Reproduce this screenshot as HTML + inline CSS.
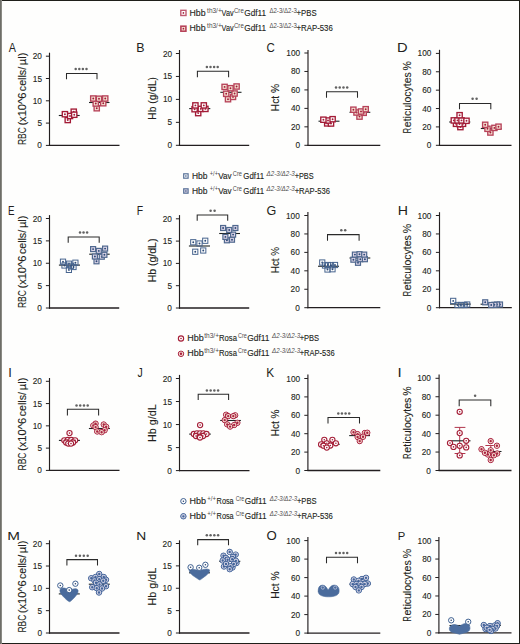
<!DOCTYPE html>
<html><head><meta charset="utf-8"><title>Figure</title>
<style>
html,body{margin:0;padding:0;background:#fff;}
body{width:520px;height:644px;overflow:hidden;position:relative;}
svg{position:absolute;left:0;top:0;display:block;}
text{font-family:"Liberation Sans", sans-serif;stroke-width:0.12px;paint-order:stroke;}
</style></head><body>
<svg width="520" height="644" viewBox="0 0 520 644">
<rect x="0" y="0" width="520" height="644" fill="#fefefd"/>
<line x1="49.50" y1="52.70" x2="49.50" y2="146.00" stroke="#231f20" stroke-width="1.15"/>
<line x1="48.95" y1="145.40" x2="119.50" y2="145.40" stroke="#231f20" stroke-width="1.3"/>
<line x1="45.90" y1="145.40" x2="49.50" y2="145.40" stroke="#231f20" stroke-width="1.0"/>
<text transform="translate(37.37,148.40) scale(0.9000,1)" font-size="9.20" fill="#231f20" stroke="#231f20">0</text>
<line x1="45.90" y1="123.10" x2="49.50" y2="123.10" stroke="#231f20" stroke-width="1.0"/>
<text transform="translate(37.39,126.10) scale(0.9000,1)" font-size="9.20" fill="#231f20" stroke="#231f20">5</text>
<line x1="45.90" y1="100.80" x2="49.50" y2="100.80" stroke="#231f20" stroke-width="1.0"/>
<text transform="translate(32.76,103.80) scale(0.9000,1)" font-size="9.20" fill="#231f20" stroke="#231f20">10</text>
<line x1="45.90" y1="78.50" x2="49.50" y2="78.50" stroke="#231f20" stroke-width="1.0"/>
<text transform="translate(32.79,81.50) scale(0.9000,1)" font-size="9.20" fill="#231f20" stroke="#231f20">15</text>
<line x1="45.90" y1="56.20" x2="49.50" y2="56.20" stroke="#231f20" stroke-width="1.0"/>
<text transform="translate(32.76,59.20) scale(0.9000,1)" font-size="9.20" fill="#231f20" stroke="#231f20">20</text>
<text transform="translate(8.78,51.80) scale(0.8587,1)" font-size="12.65" fill="#231f20" stroke="#231f20" style="stroke-width:0">A</text>
<text transform="translate(25.60,145.10) rotate(-90) scale(0.8083,1)" font-size="10.50" fill="#231f20" stroke="#231f20">RBC</text>
<text transform="translate(25.60,125.59) rotate(-90) scale(1.0572,1)" font-size="10.50" fill="#231f20" stroke="#231f20">(x10^6</text>
<text transform="translate(25.60,91.15) rotate(-90) scale(1.0139,1)" font-size="10.50" fill="#231f20" stroke="#231f20">cells/</text>
<text transform="translate(25.60,65.16) rotate(-90) scale(1.0656,1)" font-size="10.50" fill="#231f20" stroke="#231f20">µl)</text>
<path d="M66.50,79.20 V73.40 H97.00 V79.20" fill="none" stroke="#2a2a2a" stroke-width="1.05"/>
<circle cx="75.70" cy="69.00" r="1.25" fill="#626262"/>
<circle cx="79.30" cy="69.00" r="1.25" fill="#626262"/>
<circle cx="82.90" cy="69.00" r="1.25" fill="#626262"/>
<circle cx="86.50" cy="69.00" r="1.25" fill="#626262"/>
<line x1="179.50" y1="50.00" x2="179.50" y2="145.90" stroke="#231f20" stroke-width="1.15"/>
<line x1="178.95" y1="145.30" x2="249.20" y2="145.30" stroke="#231f20" stroke-width="1.3"/>
<line x1="175.90" y1="145.30" x2="179.50" y2="145.30" stroke="#231f20" stroke-width="1.0"/>
<text transform="translate(167.57,148.30) scale(0.9000,1)" font-size="9.20" fill="#231f20" stroke="#231f20">0</text>
<line x1="175.90" y1="122.35" x2="179.50" y2="122.35" stroke="#231f20" stroke-width="1.0"/>
<text transform="translate(167.59,125.35) scale(0.9000,1)" font-size="9.20" fill="#231f20" stroke="#231f20">5</text>
<line x1="175.90" y1="99.40" x2="179.50" y2="99.40" stroke="#231f20" stroke-width="1.0"/>
<text transform="translate(162.96,102.40) scale(0.9000,1)" font-size="9.20" fill="#231f20" stroke="#231f20">10</text>
<line x1="175.90" y1="76.45" x2="179.50" y2="76.45" stroke="#231f20" stroke-width="1.0"/>
<text transform="translate(162.99,79.45) scale(0.9000,1)" font-size="9.20" fill="#231f20" stroke="#231f20">15</text>
<line x1="175.90" y1="53.50" x2="179.50" y2="53.50" stroke="#231f20" stroke-width="1.0"/>
<text transform="translate(162.96,56.50) scale(0.9000,1)" font-size="9.20" fill="#231f20" stroke="#231f20">20</text>
<text transform="translate(136.28,52.30) scale(0.9807,1)" font-size="12.65" fill="#231f20" stroke="#231f20" style="stroke-width:0">B</text>
<text transform="translate(155.80,119.64) rotate(-90) scale(0.9750,1)" font-size="10.50" fill="#231f20" stroke="#231f20">Hb (g/dL)</text>
<path d="M197.40,77.20 V71.20 H228.60 V77.20" fill="none" stroke="#2a2a2a" stroke-width="1.05"/>
<circle cx="206.90" cy="66.90" r="1.25" fill="#626262"/>
<circle cx="210.50" cy="66.90" r="1.25" fill="#626262"/>
<circle cx="214.10" cy="66.90" r="1.25" fill="#626262"/>
<circle cx="217.70" cy="66.90" r="1.25" fill="#626262"/>
<line x1="308.00" y1="50.00" x2="308.00" y2="145.90" stroke="#231f20" stroke-width="1.15"/>
<line x1="307.45" y1="145.30" x2="380.30" y2="145.30" stroke="#231f20" stroke-width="1.3"/>
<line x1="304.40" y1="145.30" x2="308.00" y2="145.30" stroke="#231f20" stroke-width="1.0"/>
<text transform="translate(295.57,148.30) scale(0.9000,1)" font-size="9.20" fill="#231f20" stroke="#231f20">0</text>
<line x1="304.40" y1="126.84" x2="308.00" y2="126.84" stroke="#231f20" stroke-width="1.0"/>
<text transform="translate(290.96,129.84) scale(0.9000,1)" font-size="9.20" fill="#231f20" stroke="#231f20">20</text>
<line x1="304.40" y1="108.38" x2="308.00" y2="108.38" stroke="#231f20" stroke-width="1.0"/>
<text transform="translate(290.96,111.38) scale(0.9000,1)" font-size="9.20" fill="#231f20" stroke="#231f20">40</text>
<line x1="304.40" y1="89.92" x2="308.00" y2="89.92" stroke="#231f20" stroke-width="1.0"/>
<text transform="translate(290.96,92.92) scale(0.9000,1)" font-size="9.20" fill="#231f20" stroke="#231f20">60</text>
<line x1="304.40" y1="71.46" x2="308.00" y2="71.46" stroke="#231f20" stroke-width="1.0"/>
<text transform="translate(290.96,74.46) scale(0.9000,1)" font-size="9.20" fill="#231f20" stroke="#231f20">80</text>
<line x1="304.40" y1="53.00" x2="308.00" y2="53.00" stroke="#231f20" stroke-width="1.0"/>
<text transform="translate(286.36,56.00) scale(0.9000,1)" font-size="9.20" fill="#231f20" stroke="#231f20">100</text>
<text transform="translate(266.41,52.30) scale(0.8911,1)" font-size="12.94" fill="#231f20" stroke="#231f20" style="stroke-width:0">C</text>
<text transform="translate(279.30,111.14) rotate(-90) scale(0.9751,1)" font-size="10.50" fill="#231f20" stroke="#231f20">Hct %</text>
<path d="M326.50,97.70 V91.80 H357.50 V97.70" fill="none" stroke="#2a2a2a" stroke-width="1.05"/>
<circle cx="336.00" cy="87.40" r="1.25" fill="#626262"/>
<circle cx="339.73" cy="87.40" r="1.25" fill="#626262"/>
<circle cx="343.47" cy="87.40" r="1.25" fill="#626262"/>
<circle cx="347.20" cy="87.40" r="1.25" fill="#626262"/>
<line x1="439.50" y1="49.80" x2="439.50" y2="145.90" stroke="#231f20" stroke-width="1.15"/>
<line x1="438.95" y1="145.30" x2="511.50" y2="145.30" stroke="#231f20" stroke-width="1.3"/>
<line x1="435.90" y1="145.30" x2="439.50" y2="145.30" stroke="#231f20" stroke-width="1.0"/>
<text transform="translate(426.77,148.30) scale(0.9000,1)" font-size="9.20" fill="#231f20" stroke="#231f20">0</text>
<line x1="435.90" y1="126.92" x2="439.50" y2="126.92" stroke="#231f20" stroke-width="1.0"/>
<text transform="translate(422.16,129.92) scale(0.9000,1)" font-size="9.20" fill="#231f20" stroke="#231f20">20</text>
<line x1="435.90" y1="108.54" x2="439.50" y2="108.54" stroke="#231f20" stroke-width="1.0"/>
<text transform="translate(422.16,111.54) scale(0.9000,1)" font-size="9.20" fill="#231f20" stroke="#231f20">40</text>
<line x1="435.90" y1="90.16" x2="439.50" y2="90.16" stroke="#231f20" stroke-width="1.0"/>
<text transform="translate(422.16,93.16) scale(0.9000,1)" font-size="9.20" fill="#231f20" stroke="#231f20">60</text>
<line x1="435.90" y1="71.78" x2="439.50" y2="71.78" stroke="#231f20" stroke-width="1.0"/>
<text transform="translate(422.16,74.78) scale(0.9000,1)" font-size="9.20" fill="#231f20" stroke="#231f20">80</text>
<line x1="435.90" y1="53.40" x2="439.50" y2="53.40" stroke="#231f20" stroke-width="1.0"/>
<text transform="translate(417.56,56.40) scale(0.9000,1)" font-size="9.20" fill="#231f20" stroke="#231f20">100</text>
<text transform="translate(397.10,52.30) scale(1.1616,1)" font-size="12.65" fill="#231f20" stroke="#231f20" style="stroke-width:0">D</text>
<text transform="translate(411.00,133.21) rotate(-90) scale(0.7058,1)" font-size="10.50" fill="#231f20" stroke="#231f20">R</text>
<text transform="translate(411.00,127.14) rotate(-90) scale(1.0003,1)" font-size="10.50" fill="#231f20" stroke="#231f20">eticulocytes</text>
<text transform="translate(411.00,70.38) rotate(-90) scale(1.0016,1)" font-size="10.50" fill="#231f20" stroke="#231f20">%</text>
<path d="M459.50,109.20 V103.40 H490.80 V109.20" fill="none" stroke="#2a2a2a" stroke-width="1.05"/>
<circle cx="472.60" cy="98.80" r="1.25" fill="#626262"/>
<circle cx="476.60" cy="98.80" r="1.25" fill="#626262"/>
<line x1="49.50" y1="215.10" x2="49.50" y2="308.60" stroke="#231f20" stroke-width="1.15"/>
<line x1="48.95" y1="308.00" x2="119.20" y2="308.00" stroke="#231f20" stroke-width="1.3"/>
<line x1="45.90" y1="308.00" x2="49.50" y2="308.00" stroke="#231f20" stroke-width="1.0"/>
<text transform="translate(37.37,311.00) scale(0.9000,1)" font-size="9.20" fill="#231f20" stroke="#231f20">0</text>
<line x1="45.90" y1="285.62" x2="49.50" y2="285.62" stroke="#231f20" stroke-width="1.0"/>
<text transform="translate(37.39,288.62) scale(0.9000,1)" font-size="9.20" fill="#231f20" stroke="#231f20">5</text>
<line x1="45.90" y1="263.25" x2="49.50" y2="263.25" stroke="#231f20" stroke-width="1.0"/>
<text transform="translate(32.76,266.25) scale(0.9000,1)" font-size="9.20" fill="#231f20" stroke="#231f20">10</text>
<line x1="45.90" y1="240.88" x2="49.50" y2="240.88" stroke="#231f20" stroke-width="1.0"/>
<text transform="translate(32.79,243.88) scale(0.9000,1)" font-size="9.20" fill="#231f20" stroke="#231f20">15</text>
<line x1="45.90" y1="218.50" x2="49.50" y2="218.50" stroke="#231f20" stroke-width="1.0"/>
<text transform="translate(32.76,221.50) scale(0.9000,1)" font-size="9.20" fill="#231f20" stroke="#231f20">20</text>
<text transform="translate(8.10,214.60) scale(0.7475,1)" font-size="13.08" fill="#231f20" stroke="#231f20" style="stroke-width:0">E</text>
<text transform="translate(25.50,308.10) rotate(-90) scale(0.8092,1)" font-size="10.50" fill="#231f20" stroke="#231f20">RBC</text>
<text transform="translate(25.50,288.57) rotate(-90) scale(1.0584,1)" font-size="10.50" fill="#231f20" stroke="#231f20">(x10^6</text>
<text transform="translate(25.50,254.10) rotate(-90) scale(1.0150,1)" font-size="10.50" fill="#231f20" stroke="#231f20">cells/</text>
<text transform="translate(25.50,228.08) rotate(-90) scale(1.0667,1)" font-size="10.50" fill="#231f20" stroke="#231f20">µl)</text>
<path d="M68.20,242.80 V236.90 H99.20 V242.80" fill="none" stroke="#2a2a2a" stroke-width="1.05"/>
<circle cx="80.00" cy="232.60" r="1.25" fill="#626262"/>
<circle cx="83.55" cy="232.60" r="1.25" fill="#626262"/>
<circle cx="87.10" cy="232.60" r="1.25" fill="#626262"/>
<line x1="179.50" y1="215.10" x2="179.50" y2="308.60" stroke="#231f20" stroke-width="1.15"/>
<line x1="178.95" y1="308.00" x2="249.20" y2="308.00" stroke="#231f20" stroke-width="1.3"/>
<line x1="175.90" y1="308.00" x2="179.50" y2="308.00" stroke="#231f20" stroke-width="1.0"/>
<text transform="translate(167.37,311.00) scale(0.9000,1)" font-size="9.20" fill="#231f20" stroke="#231f20">0</text>
<line x1="175.90" y1="285.70" x2="179.50" y2="285.70" stroke="#231f20" stroke-width="1.0"/>
<text transform="translate(167.39,288.70) scale(0.9000,1)" font-size="9.20" fill="#231f20" stroke="#231f20">5</text>
<line x1="175.90" y1="263.40" x2="179.50" y2="263.40" stroke="#231f20" stroke-width="1.0"/>
<text transform="translate(162.76,266.40) scale(0.9000,1)" font-size="9.20" fill="#231f20" stroke="#231f20">10</text>
<line x1="175.90" y1="241.10" x2="179.50" y2="241.10" stroke="#231f20" stroke-width="1.0"/>
<text transform="translate(162.79,244.10) scale(0.9000,1)" font-size="9.20" fill="#231f20" stroke="#231f20">15</text>
<line x1="175.90" y1="218.80" x2="179.50" y2="218.80" stroke="#231f20" stroke-width="1.0"/>
<text transform="translate(162.76,221.80) scale(0.9000,1)" font-size="9.20" fill="#231f20" stroke="#231f20">20</text>
<text transform="translate(136.84,214.60) scale(0.7976,1)" font-size="13.08" fill="#231f20" stroke="#231f20" style="stroke-width:0">F</text>
<text transform="translate(155.80,282.36) rotate(-90) scale(1.0010,1)" font-size="10.50" fill="#231f20" stroke="#231f20">Hb (g/dL)</text>
<path d="M197.20,220.80 V214.90 H227.70 V220.80" fill="none" stroke="#2a2a2a" stroke-width="1.05"/>
<circle cx="210.60" cy="210.80" r="1.25" fill="#626262"/>
<circle cx="214.60" cy="210.80" r="1.25" fill="#626262"/>
<line x1="307.90" y1="212.00" x2="307.90" y2="308.30" stroke="#231f20" stroke-width="1.15"/>
<line x1="307.35" y1="307.70" x2="380.30" y2="307.70" stroke="#231f20" stroke-width="1.3"/>
<line x1="304.30" y1="307.70" x2="307.90" y2="307.70" stroke="#231f20" stroke-width="1.0"/>
<text transform="translate(295.17,310.70) scale(0.9000,1)" font-size="9.20" fill="#231f20" stroke="#231f20">0</text>
<line x1="304.30" y1="289.26" x2="307.90" y2="289.26" stroke="#231f20" stroke-width="1.0"/>
<text transform="translate(290.56,292.26) scale(0.9000,1)" font-size="9.20" fill="#231f20" stroke="#231f20">20</text>
<line x1="304.30" y1="270.82" x2="307.90" y2="270.82" stroke="#231f20" stroke-width="1.0"/>
<text transform="translate(290.56,273.82) scale(0.9000,1)" font-size="9.20" fill="#231f20" stroke="#231f20">40</text>
<line x1="304.30" y1="252.38" x2="307.90" y2="252.38" stroke="#231f20" stroke-width="1.0"/>
<text transform="translate(290.56,255.38) scale(0.9000,1)" font-size="9.20" fill="#231f20" stroke="#231f20">60</text>
<line x1="304.30" y1="233.94" x2="307.90" y2="233.94" stroke="#231f20" stroke-width="1.0"/>
<text transform="translate(290.56,236.94) scale(0.9000,1)" font-size="9.20" fill="#231f20" stroke="#231f20">80</text>
<line x1="304.30" y1="215.50" x2="307.90" y2="215.50" stroke="#231f20" stroke-width="1.0"/>
<text transform="translate(285.96,218.50) scale(0.9000,1)" font-size="9.20" fill="#231f20" stroke="#231f20">100</text>
<text transform="translate(266.57,214.60) scale(0.9602,1)" font-size="13.08" fill="#231f20" stroke="#231f20" style="stroke-width:0">G</text>
<text transform="translate(279.30,273.21) rotate(-90) scale(0.9414,1)" font-size="10.50" fill="#231f20" stroke="#231f20">Hct %</text>
<path d="M327.50,240.80 V234.60 H359.10 V240.80" fill="none" stroke="#2a2a2a" stroke-width="1.05"/>
<circle cx="341.30" cy="230.30" r="1.25" fill="#626262"/>
<circle cx="345.20" cy="230.30" r="1.25" fill="#626262"/>
<line x1="439.50" y1="212.20" x2="439.50" y2="308.30" stroke="#231f20" stroke-width="1.15"/>
<line x1="438.95" y1="307.70" x2="511.80" y2="307.70" stroke="#231f20" stroke-width="1.3"/>
<line x1="435.90" y1="307.70" x2="439.50" y2="307.70" stroke="#231f20" stroke-width="1.0"/>
<text transform="translate(426.77,310.70) scale(0.9000,1)" font-size="9.20" fill="#231f20" stroke="#231f20">0</text>
<line x1="435.90" y1="289.26" x2="439.50" y2="289.26" stroke="#231f20" stroke-width="1.0"/>
<text transform="translate(422.16,292.26) scale(0.9000,1)" font-size="9.20" fill="#231f20" stroke="#231f20">20</text>
<line x1="435.90" y1="270.82" x2="439.50" y2="270.82" stroke="#231f20" stroke-width="1.0"/>
<text transform="translate(422.16,273.82) scale(0.9000,1)" font-size="9.20" fill="#231f20" stroke="#231f20">40</text>
<line x1="435.90" y1="252.38" x2="439.50" y2="252.38" stroke="#231f20" stroke-width="1.0"/>
<text transform="translate(422.16,255.38) scale(0.9000,1)" font-size="9.20" fill="#231f20" stroke="#231f20">60</text>
<line x1="435.90" y1="233.94" x2="439.50" y2="233.94" stroke="#231f20" stroke-width="1.0"/>
<text transform="translate(422.16,236.94) scale(0.9000,1)" font-size="9.20" fill="#231f20" stroke="#231f20">80</text>
<line x1="435.90" y1="215.50" x2="439.50" y2="215.50" stroke="#231f20" stroke-width="1.0"/>
<text transform="translate(417.56,218.50) scale(0.9000,1)" font-size="9.20" fill="#231f20" stroke="#231f20">100</text>
<text transform="translate(397.74,214.60) scale(1.0811,1)" font-size="13.08" fill="#231f20" stroke="#231f20" style="stroke-width:0">H</text>
<text transform="translate(411.00,296.31) rotate(-90) scale(0.7098,1)" font-size="10.50" fill="#231f20" stroke="#231f20">R</text>
<text transform="translate(411.00,290.21) rotate(-90) scale(1.0059,1)" font-size="10.50" fill="#231f20" stroke="#231f20">eticulocytes</text>
<text transform="translate(411.00,233.13) rotate(-90) scale(1.0072,1)" font-size="10.50" fill="#231f20" stroke="#231f20">%</text>
<line x1="49.50" y1="378.00" x2="49.50" y2="471.00" stroke="#231f20" stroke-width="1.15"/>
<line x1="48.95" y1="470.40" x2="119.50" y2="470.40" stroke="#231f20" stroke-width="1.3"/>
<line x1="45.90" y1="470.40" x2="49.50" y2="470.40" stroke="#231f20" stroke-width="1.0"/>
<text transform="translate(37.37,473.40) scale(0.9000,1)" font-size="9.20" fill="#231f20" stroke="#231f20">0</text>
<line x1="45.90" y1="448.12" x2="49.50" y2="448.12" stroke="#231f20" stroke-width="1.0"/>
<text transform="translate(37.39,451.12) scale(0.9000,1)" font-size="9.20" fill="#231f20" stroke="#231f20">5</text>
<line x1="45.90" y1="425.85" x2="49.50" y2="425.85" stroke="#231f20" stroke-width="1.0"/>
<text transform="translate(32.76,428.85) scale(0.9000,1)" font-size="9.20" fill="#231f20" stroke="#231f20">10</text>
<line x1="45.90" y1="403.57" x2="49.50" y2="403.57" stroke="#231f20" stroke-width="1.0"/>
<text transform="translate(32.79,406.57) scale(0.9000,1)" font-size="9.20" fill="#231f20" stroke="#231f20">15</text>
<line x1="45.90" y1="381.30" x2="49.50" y2="381.30" stroke="#231f20" stroke-width="1.0"/>
<text transform="translate(32.76,384.30) scale(0.9000,1)" font-size="9.20" fill="#231f20" stroke="#231f20">20</text>
<text transform="translate(8.21,377.10) scale(1.0415,1)" font-size="12.35" fill="#231f20" stroke="#231f20" style="stroke-width:0">I</text>
<text transform="translate(25.90,470.50) rotate(-90) scale(0.8118,1)" font-size="10.50" fill="#231f20" stroke="#231f20">RBC</text>
<text transform="translate(25.90,450.91) rotate(-90) scale(1.0619,1)" font-size="10.50" fill="#231f20" stroke="#231f20">(x10^6</text>
<text transform="translate(25.90,416.32) rotate(-90) scale(1.0184,1)" font-size="10.50" fill="#231f20" stroke="#231f20">cells/</text>
<text transform="translate(25.90,390.22) rotate(-90) scale(1.0702,1)" font-size="10.50" fill="#231f20" stroke="#231f20">µl)</text>
<path d="M67.40,415.40 V409.20 H98.60 V415.40" fill="none" stroke="#2a2a2a" stroke-width="1.05"/>
<circle cx="76.50" cy="405.40" r="1.25" fill="#626262"/>
<circle cx="80.23" cy="405.40" r="1.25" fill="#626262"/>
<circle cx="83.97" cy="405.40" r="1.25" fill="#626262"/>
<circle cx="87.70" cy="405.40" r="1.25" fill="#626262"/>
<line x1="179.50" y1="374.90" x2="179.50" y2="471.20" stroke="#231f20" stroke-width="1.15"/>
<line x1="178.95" y1="470.60" x2="249.50" y2="470.60" stroke="#231f20" stroke-width="1.3"/>
<line x1="175.90" y1="470.60" x2="179.50" y2="470.60" stroke="#231f20" stroke-width="1.0"/>
<text transform="translate(167.37,473.60) scale(0.9000,1)" font-size="9.20" fill="#231f20" stroke="#231f20">0</text>
<line x1="175.90" y1="447.58" x2="179.50" y2="447.58" stroke="#231f20" stroke-width="1.0"/>
<text transform="translate(167.39,450.58) scale(0.9000,1)" font-size="9.20" fill="#231f20" stroke="#231f20">5</text>
<line x1="175.90" y1="424.55" x2="179.50" y2="424.55" stroke="#231f20" stroke-width="1.0"/>
<text transform="translate(162.76,427.55) scale(0.9000,1)" font-size="9.20" fill="#231f20" stroke="#231f20">10</text>
<line x1="175.90" y1="401.52" x2="179.50" y2="401.52" stroke="#231f20" stroke-width="1.0"/>
<text transform="translate(162.79,404.52) scale(0.9000,1)" font-size="9.20" fill="#231f20" stroke="#231f20">15</text>
<line x1="175.90" y1="378.50" x2="179.50" y2="378.50" stroke="#231f20" stroke-width="1.0"/>
<text transform="translate(162.76,381.50) scale(0.9000,1)" font-size="9.20" fill="#231f20" stroke="#231f20">20</text>
<text transform="translate(137.54,377.10) scale(0.8387,1)" font-size="12.50" fill="#231f20" stroke="#231f20" style="stroke-width:0">J</text>
<text transform="translate(155.80,441.88) rotate(-90) scale(1.0235,1)" font-size="10.50" fill="#231f20" stroke="#231f20">Hb g/dL</text>
<path d="M198.20,400.00 V394.30 H228.60 V400.00" fill="none" stroke="#2a2a2a" stroke-width="1.05"/>
<circle cx="206.90" cy="390.50" r="1.25" fill="#626262"/>
<circle cx="210.63" cy="390.50" r="1.25" fill="#626262"/>
<circle cx="214.37" cy="390.50" r="1.25" fill="#626262"/>
<circle cx="218.10" cy="390.50" r="1.25" fill="#626262"/>
<line x1="307.90" y1="374.50" x2="307.90" y2="471.10" stroke="#231f20" stroke-width="1.15"/>
<line x1="307.35" y1="470.50" x2="380.30" y2="470.50" stroke="#231f20" stroke-width="1.3"/>
<line x1="304.30" y1="470.50" x2="307.90" y2="470.50" stroke="#231f20" stroke-width="1.0"/>
<text transform="translate(295.57,473.50) scale(0.9000,1)" font-size="9.20" fill="#231f20" stroke="#231f20">0</text>
<line x1="304.30" y1="452.10" x2="307.90" y2="452.10" stroke="#231f20" stroke-width="1.0"/>
<text transform="translate(290.96,455.10) scale(0.9000,1)" font-size="9.20" fill="#231f20" stroke="#231f20">20</text>
<line x1="304.30" y1="433.70" x2="307.90" y2="433.70" stroke="#231f20" stroke-width="1.0"/>
<text transform="translate(290.96,436.70) scale(0.9000,1)" font-size="9.20" fill="#231f20" stroke="#231f20">40</text>
<line x1="304.30" y1="415.30" x2="307.90" y2="415.30" stroke="#231f20" stroke-width="1.0"/>
<text transform="translate(290.96,418.30) scale(0.9000,1)" font-size="9.20" fill="#231f20" stroke="#231f20">60</text>
<line x1="304.30" y1="396.90" x2="307.90" y2="396.90" stroke="#231f20" stroke-width="1.0"/>
<text transform="translate(290.96,399.90) scale(0.9000,1)" font-size="9.20" fill="#231f20" stroke="#231f20">80</text>
<line x1="304.30" y1="378.50" x2="307.90" y2="378.50" stroke="#231f20" stroke-width="1.0"/>
<text transform="translate(286.36,381.50) scale(0.9000,1)" font-size="9.20" fill="#231f20" stroke="#231f20">100</text>
<text transform="translate(266.23,377.10) scale(0.9593,1)" font-size="12.35" fill="#231f20" stroke="#231f20" style="stroke-width:0">K</text>
<text transform="translate(279.30,436.22) rotate(-90) scale(0.9564,1)" font-size="10.50" fill="#231f20" stroke="#231f20">Hct %</text>
<path d="M328.00,423.50 V417.40 H359.50 V423.50" fill="none" stroke="#2a2a2a" stroke-width="1.05"/>
<circle cx="338.30" cy="413.50" r="1.25" fill="#626262"/>
<circle cx="341.93" cy="413.50" r="1.25" fill="#626262"/>
<circle cx="345.57" cy="413.50" r="1.25" fill="#626262"/>
<circle cx="349.20" cy="413.50" r="1.25" fill="#626262"/>
<line x1="439.10" y1="374.60" x2="439.10" y2="471.10" stroke="#231f20" stroke-width="1.15"/>
<line x1="438.55" y1="470.50" x2="511.50" y2="470.50" stroke="#231f20" stroke-width="1.3"/>
<line x1="435.50" y1="470.50" x2="439.10" y2="470.50" stroke="#231f20" stroke-width="1.0"/>
<text transform="translate(426.37,473.50) scale(0.9000,1)" font-size="9.20" fill="#231f20" stroke="#231f20">0</text>
<line x1="435.50" y1="452.06" x2="439.10" y2="452.06" stroke="#231f20" stroke-width="1.0"/>
<text transform="translate(421.76,455.06) scale(0.9000,1)" font-size="9.20" fill="#231f20" stroke="#231f20">20</text>
<line x1="435.50" y1="433.62" x2="439.10" y2="433.62" stroke="#231f20" stroke-width="1.0"/>
<text transform="translate(421.76,436.62) scale(0.9000,1)" font-size="9.20" fill="#231f20" stroke="#231f20">40</text>
<line x1="435.50" y1="415.18" x2="439.10" y2="415.18" stroke="#231f20" stroke-width="1.0"/>
<text transform="translate(421.76,418.18) scale(0.9000,1)" font-size="9.20" fill="#231f20" stroke="#231f20">60</text>
<line x1="435.50" y1="396.74" x2="439.10" y2="396.74" stroke="#231f20" stroke-width="1.0"/>
<text transform="translate(421.76,399.74) scale(0.9000,1)" font-size="9.20" fill="#231f20" stroke="#231f20">80</text>
<line x1="435.50" y1="378.30" x2="439.10" y2="378.30" stroke="#231f20" stroke-width="1.0"/>
<text transform="translate(417.16,381.30) scale(0.9000,1)" font-size="9.20" fill="#231f20" stroke="#231f20">100</text>
<text transform="translate(397.51,376.80) scale(1.2443,1)" font-size="12.06" fill="#231f20" stroke="#231f20" style="stroke-width:0">I</text>
<text transform="translate(410.90,458.71) rotate(-90) scale(0.7078,1)" font-size="10.50" fill="#231f20" stroke="#231f20">R</text>
<text transform="translate(410.90,452.63) rotate(-90) scale(1.0031,1)" font-size="10.50" fill="#231f20" stroke="#231f20">eticulocytes</text>
<text transform="translate(410.90,395.70) rotate(-90) scale(1.0044,1)" font-size="10.50" fill="#231f20" stroke="#231f20">%</text>
<path d="M459.20,406.20 V400.00 H490.80 V406.20" fill="none" stroke="#2a2a2a" stroke-width="1.05"/>
<circle cx="475.10" cy="395.80" r="1.25" fill="#626262"/>
<line x1="49.50" y1="540.30" x2="49.50" y2="633.60" stroke="#231f20" stroke-width="1.15"/>
<line x1="48.95" y1="633.00" x2="119.50" y2="633.00" stroke="#231f20" stroke-width="1.3"/>
<line x1="45.90" y1="633.00" x2="49.50" y2="633.00" stroke="#231f20" stroke-width="1.0"/>
<text transform="translate(37.42,636.00) scale(0.9000,1)" font-size="9.20" fill="#231f20" stroke="#231f20">0</text>
<line x1="45.90" y1="610.67" x2="49.50" y2="610.67" stroke="#231f20" stroke-width="1.0"/>
<text transform="translate(37.44,613.67) scale(0.9000,1)" font-size="9.20" fill="#231f20" stroke="#231f20">5</text>
<line x1="45.90" y1="588.35" x2="49.50" y2="588.35" stroke="#231f20" stroke-width="1.0"/>
<text transform="translate(32.81,591.35) scale(0.9000,1)" font-size="9.20" fill="#231f20" stroke="#231f20">10</text>
<line x1="45.90" y1="566.03" x2="49.50" y2="566.03" stroke="#231f20" stroke-width="1.0"/>
<text transform="translate(32.84,569.03) scale(0.9000,1)" font-size="9.20" fill="#231f20" stroke="#231f20">15</text>
<line x1="45.90" y1="543.70" x2="49.50" y2="543.70" stroke="#231f20" stroke-width="1.0"/>
<text transform="translate(32.81,546.70) scale(0.9000,1)" font-size="9.20" fill="#231f20" stroke="#231f20">20</text>
<text transform="translate(7.35,539.60) scale(1.3113,1)" font-size="11.63" fill="#231f20" stroke="#231f20" style="stroke-width:0">M</text>
<text transform="translate(25.80,632.49) rotate(-90) scale(0.8021,1)" font-size="10.50" fill="#231f20" stroke="#231f20">RBC</text>
<text transform="translate(25.80,613.13) rotate(-90) scale(1.0491,1)" font-size="10.50" fill="#231f20" stroke="#231f20">(x10^6</text>
<text transform="translate(25.80,578.96) rotate(-90) scale(1.0061,1)" font-size="10.50" fill="#231f20" stroke="#231f20">cells/</text>
<text transform="translate(25.80,553.17) rotate(-90) scale(1.0574,1)" font-size="10.50" fill="#231f20" stroke="#231f20">µl)</text>
<path d="M66.90,565.50 V559.60 H97.50 V565.50" fill="none" stroke="#2a2a2a" stroke-width="1.05"/>
<circle cx="76.00" cy="555.80" r="1.25" fill="#626262"/>
<circle cx="79.90" cy="555.80" r="1.25" fill="#626262"/>
<circle cx="83.80" cy="555.80" r="1.25" fill="#626262"/>
<circle cx="87.70" cy="555.80" r="1.25" fill="#626262"/>
<line x1="179.50" y1="540.30" x2="179.50" y2="633.60" stroke="#231f20" stroke-width="1.15"/>
<line x1="178.95" y1="633.00" x2="249.50" y2="633.00" stroke="#231f20" stroke-width="1.3"/>
<line x1="175.90" y1="633.00" x2="179.50" y2="633.00" stroke="#231f20" stroke-width="1.0"/>
<text transform="translate(167.17,636.00) scale(0.9000,1)" font-size="9.20" fill="#231f20" stroke="#231f20">0</text>
<line x1="175.90" y1="610.62" x2="179.50" y2="610.62" stroke="#231f20" stroke-width="1.0"/>
<text transform="translate(167.19,613.62) scale(0.9000,1)" font-size="9.20" fill="#231f20" stroke="#231f20">5</text>
<line x1="175.90" y1="588.25" x2="179.50" y2="588.25" stroke="#231f20" stroke-width="1.0"/>
<text transform="translate(162.56,591.25) scale(0.9000,1)" font-size="9.20" fill="#231f20" stroke="#231f20">10</text>
<line x1="175.90" y1="565.88" x2="179.50" y2="565.88" stroke="#231f20" stroke-width="1.0"/>
<text transform="translate(162.59,568.88) scale(0.9000,1)" font-size="9.20" fill="#231f20" stroke="#231f20">15</text>
<line x1="175.90" y1="543.50" x2="179.50" y2="543.50" stroke="#231f20" stroke-width="1.0"/>
<text transform="translate(162.56,546.50) scale(0.9000,1)" font-size="9.20" fill="#231f20" stroke="#231f20">20</text>
<text transform="translate(136.37,539.60) scale(1.1855,1)" font-size="11.63" fill="#231f20" stroke="#231f20" style="stroke-width:0">N</text>
<text transform="translate(156.20,605.69) rotate(-90) scale(1.0319,1)" font-size="10.50" fill="#231f20" stroke="#231f20">Hb g/dL</text>
<path d="M197.70,545.30 V539.60 H228.50 V545.30" fill="none" stroke="#2a2a2a" stroke-width="1.05"/>
<circle cx="206.80" cy="535.30" r="1.25" fill="#626262"/>
<circle cx="210.57" cy="535.30" r="1.25" fill="#626262"/>
<circle cx="214.33" cy="535.30" r="1.25" fill="#626262"/>
<circle cx="218.10" cy="535.30" r="1.25" fill="#626262"/>
<line x1="307.90" y1="537.10" x2="307.90" y2="633.70" stroke="#231f20" stroke-width="1.15"/>
<line x1="307.35" y1="633.10" x2="380.30" y2="633.10" stroke="#231f20" stroke-width="1.3"/>
<line x1="304.30" y1="633.10" x2="307.90" y2="633.10" stroke="#231f20" stroke-width="1.0"/>
<text transform="translate(295.57,636.10) scale(0.9000,1)" font-size="9.20" fill="#231f20" stroke="#231f20">0</text>
<line x1="304.30" y1="614.60" x2="307.90" y2="614.60" stroke="#231f20" stroke-width="1.0"/>
<text transform="translate(290.96,617.60) scale(0.9000,1)" font-size="9.20" fill="#231f20" stroke="#231f20">20</text>
<line x1="304.30" y1="596.10" x2="307.90" y2="596.10" stroke="#231f20" stroke-width="1.0"/>
<text transform="translate(290.96,599.10) scale(0.9000,1)" font-size="9.20" fill="#231f20" stroke="#231f20">40</text>
<line x1="304.30" y1="577.60" x2="307.90" y2="577.60" stroke="#231f20" stroke-width="1.0"/>
<text transform="translate(290.96,580.60) scale(0.9000,1)" font-size="9.20" fill="#231f20" stroke="#231f20">60</text>
<line x1="304.30" y1="559.10" x2="307.90" y2="559.10" stroke="#231f20" stroke-width="1.0"/>
<text transform="translate(290.96,562.10) scale(0.9000,1)" font-size="9.20" fill="#231f20" stroke="#231f20">80</text>
<line x1="304.30" y1="540.60" x2="307.90" y2="540.60" stroke="#231f20" stroke-width="1.0"/>
<text transform="translate(286.36,543.60) scale(0.9000,1)" font-size="9.20" fill="#231f20" stroke="#231f20">100</text>
<text transform="translate(266.48,539.60) scale(1.0929,1)" font-size="12.06" fill="#231f20" stroke="#231f20" style="stroke-width:0">O</text>
<text transform="translate(279.10,598.85) rotate(-90) scale(0.9863,1)" font-size="10.50" fill="#231f20" stroke="#231f20">Hct %</text>
<path d="M326.50,563.20 V557.30 H357.50 V563.20" fill="none" stroke="#2a2a2a" stroke-width="1.05"/>
<circle cx="336.00" cy="553.00" r="1.25" fill="#626262"/>
<circle cx="339.73" cy="553.00" r="1.25" fill="#626262"/>
<circle cx="343.47" cy="553.00" r="1.25" fill="#626262"/>
<circle cx="347.20" cy="553.00" r="1.25" fill="#626262"/>
<line x1="438.90" y1="537.10" x2="438.90" y2="633.50" stroke="#231f20" stroke-width="1.15"/>
<line x1="438.35" y1="632.90" x2="511.50" y2="632.90" stroke="#231f20" stroke-width="1.3"/>
<line x1="435.30" y1="632.90" x2="438.90" y2="632.90" stroke="#231f20" stroke-width="1.0"/>
<text transform="translate(426.77,635.90) scale(0.9000,1)" font-size="9.20" fill="#231f20" stroke="#231f20">0</text>
<line x1="435.30" y1="614.44" x2="438.90" y2="614.44" stroke="#231f20" stroke-width="1.0"/>
<text transform="translate(422.16,617.44) scale(0.9000,1)" font-size="9.20" fill="#231f20" stroke="#231f20">20</text>
<line x1="435.30" y1="595.98" x2="438.90" y2="595.98" stroke="#231f20" stroke-width="1.0"/>
<text transform="translate(422.16,598.98) scale(0.9000,1)" font-size="9.20" fill="#231f20" stroke="#231f20">40</text>
<line x1="435.30" y1="577.52" x2="438.90" y2="577.52" stroke="#231f20" stroke-width="1.0"/>
<text transform="translate(422.16,580.52) scale(0.9000,1)" font-size="9.20" fill="#231f20" stroke="#231f20">60</text>
<line x1="435.30" y1="559.06" x2="438.90" y2="559.06" stroke="#231f20" stroke-width="1.0"/>
<text transform="translate(422.16,562.06) scale(0.9000,1)" font-size="9.20" fill="#231f20" stroke="#231f20">80</text>
<line x1="435.30" y1="540.60" x2="438.90" y2="540.60" stroke="#231f20" stroke-width="1.0"/>
<text transform="translate(417.56,543.60) scale(0.9000,1)" font-size="9.20" fill="#231f20" stroke="#231f20">100</text>
<text transform="translate(397.68,539.60) scale(0.9695,1)" font-size="11.63" fill="#231f20" stroke="#231f20" style="stroke-width:0">P</text>
<text transform="translate(410.70,621.51) rotate(-90) scale(0.7098,1)" font-size="10.50" fill="#231f20" stroke="#231f20">R</text>
<text transform="translate(410.70,615.41) rotate(-90) scale(1.0059,1)" font-size="10.50" fill="#231f20" stroke="#231f20">eticulocytes</text>
<text transform="translate(410.70,558.33) rotate(-90) scale(1.0072,1)" font-size="10.50" fill="#231f20" stroke="#231f20">%</text>
<line x1="58.80" y1="115.50" x2="79.70" y2="115.50" stroke="#1e2424" stroke-width="1.1"/>
<rect x="65.12" y="117.38" width="5.25" height="5.25" fill="#ffffff" stroke="#a31b36" stroke-width="1.35"/>
<circle cx="67.75" cy="120.00" r="0.95" fill="#a31b36"/>
<rect x="71.12" y="109.08" width="5.25" height="5.25" fill="#ffffff" stroke="#a31b36" stroke-width="1.35"/>
<circle cx="73.75" cy="111.70" r="0.95" fill="#a31b36"/>
<rect x="67.38" y="113.38" width="5.25" height="5.25" fill="#ffffff" stroke="#a31b36" stroke-width="1.35"/>
<circle cx="70.00" cy="116.00" r="0.95" fill="#a31b36"/>
<rect x="62.28" y="111.58" width="5.25" height="5.25" fill="#ffffff" stroke="#a31b36" stroke-width="1.35"/>
<circle cx="64.90" cy="114.20" r="0.95" fill="#a31b36"/>
<rect x="71.62" y="112.12" width="5.25" height="5.25" fill="#ffffff" stroke="#a31b36" stroke-width="1.35"/>
<circle cx="74.25" cy="114.75" r="0.95" fill="#a31b36"/>
<line x1="89.00" y1="102.50" x2="109.50" y2="102.50" stroke="#1e2424" stroke-width="1.1"/>
<rect x="94.12" y="105.62" width="5.25" height="5.25" fill="#f4e1d2" stroke="#b7435a" stroke-width="1.35"/>
<circle cx="96.75" cy="108.25" r="0.95" fill="#a31b36"/>
<rect x="93.12" y="100.88" width="5.25" height="5.25" fill="#f4e1d2" stroke="#b7435a" stroke-width="1.35"/>
<circle cx="95.75" cy="103.50" r="0.95" fill="#a31b36"/>
<rect x="100.62" y="100.62" width="5.25" height="5.25" fill="#f4e1d2" stroke="#b7435a" stroke-width="1.35"/>
<circle cx="103.25" cy="103.25" r="0.95" fill="#a31b36"/>
<rect x="90.62" y="95.88" width="5.25" height="5.25" fill="#f4e1d2" stroke="#b7435a" stroke-width="1.35"/>
<circle cx="93.25" cy="98.50" r="0.95" fill="#a31b36"/>
<rect x="96.38" y="96.12" width="5.25" height="5.25" fill="#f4e1d2" stroke="#b7435a" stroke-width="1.35"/>
<circle cx="99.00" cy="98.75" r="0.95" fill="#a31b36"/>
<rect x="102.62" y="95.88" width="5.25" height="5.25" fill="#f4e1d2" stroke="#b7435a" stroke-width="1.35"/>
<circle cx="105.25" cy="98.50" r="0.95" fill="#a31b36"/>
<line x1="189.20" y1="108.60" x2="210.30" y2="108.60" stroke="#1e2424" stroke-width="1.1"/>
<rect x="195.57" y="110.47" width="5.25" height="5.25" fill="#ffffff" stroke="#a31b36" stroke-width="1.35"/>
<circle cx="198.20" cy="113.10" r="0.95" fill="#a31b36"/>
<rect x="191.97" y="106.58" width="5.25" height="5.25" fill="#ffffff" stroke="#a31b36" stroke-width="1.35"/>
<circle cx="194.60" cy="109.20" r="0.95" fill="#a31b36"/>
<rect x="198.18" y="106.28" width="5.25" height="5.25" fill="#ffffff" stroke="#a31b36" stroke-width="1.35"/>
<circle cx="200.80" cy="108.90" r="0.95" fill="#a31b36"/>
<rect x="202.78" y="106.28" width="5.25" height="5.25" fill="#ffffff" stroke="#a31b36" stroke-width="1.35"/>
<circle cx="205.40" cy="108.90" r="0.95" fill="#a31b36"/>
<rect x="192.78" y="102.78" width="5.25" height="5.25" fill="#ffffff" stroke="#a31b36" stroke-width="1.35"/>
<circle cx="195.40" cy="105.40" r="0.95" fill="#a31b36"/>
<rect x="201.18" y="102.78" width="5.25" height="5.25" fill="#ffffff" stroke="#a31b36" stroke-width="1.35"/>
<circle cx="203.80" cy="105.40" r="0.95" fill="#a31b36"/>
<line x1="220.30" y1="92.30" x2="241.50" y2="92.30" stroke="#1e2424" stroke-width="1.1"/>
<rect x="225.38" y="96.58" width="5.25" height="5.25" fill="#f4e1d2" stroke="#b7435a" stroke-width="1.35"/>
<circle cx="228.00" cy="99.20" r="0.95" fill="#a31b36"/>
<rect x="230.38" y="94.28" width="5.25" height="5.25" fill="#f4e1d2" stroke="#b7435a" stroke-width="1.35"/>
<circle cx="233.00" cy="96.90" r="0.95" fill="#a31b36"/>
<rect x="223.57" y="91.17" width="5.25" height="5.25" fill="#f4e1d2" stroke="#b7435a" stroke-width="1.35"/>
<circle cx="226.20" cy="93.80" r="0.95" fill="#a31b36"/>
<rect x="231.97" y="90.88" width="5.25" height="5.25" fill="#f4e1d2" stroke="#b7435a" stroke-width="1.35"/>
<circle cx="234.60" cy="93.50" r="0.95" fill="#a31b36"/>
<rect x="221.97" y="84.28" width="5.25" height="5.25" fill="#f4e1d2" stroke="#b7435a" stroke-width="1.35"/>
<circle cx="224.60" cy="86.90" r="0.95" fill="#a31b36"/>
<rect x="227.88" y="85.58" width="5.25" height="5.25" fill="#f4e1d2" stroke="#b7435a" stroke-width="1.35"/>
<circle cx="230.50" cy="88.20" r="0.95" fill="#a31b36"/>
<rect x="233.97" y="83.88" width="5.25" height="5.25" fill="#f4e1d2" stroke="#b7435a" stroke-width="1.35"/>
<circle cx="236.60" cy="86.50" r="0.95" fill="#a31b36"/>
<line x1="318.50" y1="121.20" x2="339.50" y2="121.20" stroke="#1e2424" stroke-width="1.1"/>
<rect x="324.57" y="120.78" width="5.25" height="5.25" fill="#ffffff" stroke="#a31b36" stroke-width="1.35"/>
<circle cx="327.20" cy="123.40" r="0.95" fill="#a31b36"/>
<rect x="328.38" y="120.88" width="5.25" height="5.25" fill="#ffffff" stroke="#a31b36" stroke-width="1.35"/>
<circle cx="331.00" cy="123.50" r="0.95" fill="#a31b36"/>
<rect x="325.38" y="117.88" width="5.25" height="5.25" fill="#ffffff" stroke="#a31b36" stroke-width="1.35"/>
<circle cx="328.00" cy="120.50" r="0.95" fill="#a31b36"/>
<rect x="320.77" y="117.08" width="5.25" height="5.25" fill="#ffffff" stroke="#a31b36" stroke-width="1.35"/>
<circle cx="323.40" cy="119.70" r="0.95" fill="#a31b36"/>
<rect x="329.98" y="116.58" width="5.25" height="5.25" fill="#ffffff" stroke="#a31b36" stroke-width="1.35"/>
<circle cx="332.60" cy="119.20" r="0.95" fill="#a31b36"/>
<line x1="349.50" y1="112.30" x2="370.30" y2="112.30" stroke="#1e2424" stroke-width="1.1"/>
<rect x="356.88" y="113.97" width="5.25" height="5.25" fill="#f4e1d2" stroke="#b7435a" stroke-width="1.35"/>
<circle cx="359.50" cy="116.60" r="0.95" fill="#a31b36"/>
<rect x="361.07" y="110.17" width="5.25" height="5.25" fill="#f4e1d2" stroke="#b7435a" stroke-width="1.35"/>
<circle cx="363.70" cy="112.80" r="0.95" fill="#a31b36"/>
<rect x="353.88" y="109.88" width="5.25" height="5.25" fill="#f4e1d2" stroke="#b7435a" stroke-width="1.35"/>
<circle cx="356.50" cy="112.50" r="0.95" fill="#a31b36"/>
<rect x="358.38" y="108.88" width="5.25" height="5.25" fill="#f4e1d2" stroke="#b7435a" stroke-width="1.35"/>
<circle cx="361.00" cy="111.50" r="0.95" fill="#a31b36"/>
<rect x="350.77" y="107.08" width="5.25" height="5.25" fill="#f4e1d2" stroke="#b7435a" stroke-width="1.35"/>
<circle cx="353.40" cy="109.70" r="0.95" fill="#a31b36"/>
<rect x="363.07" y="106.58" width="5.25" height="5.25" fill="#f4e1d2" stroke="#b7435a" stroke-width="1.35"/>
<circle cx="365.70" cy="109.20" r="0.95" fill="#a31b36"/>
<line x1="449.20" y1="122.00" x2="470.30" y2="122.00" stroke="#1e2424" stroke-width="1.1"/>
<rect x="457.77" y="124.47" width="5.25" height="5.25" fill="#ffffff" stroke="#a31b36" stroke-width="1.35"/>
<circle cx="460.40" cy="127.10" r="0.95" fill="#a31b36"/>
<rect x="453.38" y="121.17" width="5.25" height="5.25" fill="#ffffff" stroke="#a31b36" stroke-width="1.35"/>
<circle cx="456.00" cy="123.80" r="0.95" fill="#a31b36"/>
<rect x="460.38" y="121.17" width="5.25" height="5.25" fill="#ffffff" stroke="#a31b36" stroke-width="1.35"/>
<circle cx="463.00" cy="123.80" r="0.95" fill="#a31b36"/>
<rect x="456.88" y="121.38" width="5.25" height="5.25" fill="#ffffff" stroke="#a31b36" stroke-width="1.35"/>
<circle cx="459.50" cy="124.00" r="0.95" fill="#a31b36"/>
<rect x="451.18" y="117.78" width="5.25" height="5.25" fill="#ffffff" stroke="#a31b36" stroke-width="1.35"/>
<circle cx="453.80" cy="120.40" r="0.95" fill="#a31b36"/>
<rect x="454.88" y="117.78" width="5.25" height="5.25" fill="#ffffff" stroke="#a31b36" stroke-width="1.35"/>
<circle cx="457.50" cy="120.40" r="0.95" fill="#a31b36"/>
<rect x="458.88" y="117.78" width="5.25" height="5.25" fill="#ffffff" stroke="#a31b36" stroke-width="1.35"/>
<circle cx="461.50" cy="120.40" r="0.95" fill="#a31b36"/>
<rect x="463.88" y="118.17" width="5.25" height="5.25" fill="#ffffff" stroke="#a31b36" stroke-width="1.35"/>
<circle cx="466.50" cy="120.80" r="0.95" fill="#a31b36"/>
<rect x="456.98" y="112.58" width="5.25" height="5.25" fill="#ffffff" stroke="#a31b36" stroke-width="1.35"/>
<circle cx="459.60" cy="115.20" r="0.95" fill="#a31b36"/>
<line x1="480.80" y1="128.50" x2="501.50" y2="128.50" stroke="#1e2424" stroke-width="1.1"/>
<rect x="487.77" y="129.88" width="5.25" height="5.25" fill="#f4e1d2" stroke="#b7435a" stroke-width="1.35"/>
<circle cx="490.40" cy="132.50" r="0.95" fill="#a31b36"/>
<rect x="484.88" y="126.18" width="5.25" height="5.25" fill="#f4e1d2" stroke="#b7435a" stroke-width="1.35"/>
<circle cx="487.50" cy="128.80" r="0.95" fill="#a31b36"/>
<rect x="491.77" y="125.28" width="5.25" height="5.25" fill="#f4e1d2" stroke="#b7435a" stroke-width="1.35"/>
<circle cx="494.40" cy="127.90" r="0.95" fill="#a31b36"/>
<rect x="482.57" y="122.17" width="5.25" height="5.25" fill="#f4e1d2" stroke="#b7435a" stroke-width="1.35"/>
<circle cx="485.20" cy="124.80" r="0.95" fill="#a31b36"/>
<rect x="495.88" y="124.08" width="5.25" height="5.25" fill="#f4e1d2" stroke="#b7435a" stroke-width="1.35"/>
<circle cx="498.50" cy="126.70" r="0.95" fill="#a31b36"/>
<line x1="58.90" y1="265.10" x2="80.00" y2="265.10" stroke="#1e2424" stroke-width="1.1"/>
<rect x="60.40" y="259.10" width="5.20" height="5.20" fill="none" stroke="#48658f" stroke-width="1.0"/>
<circle cx="63.00" cy="261.70" r="0.95" fill="#2c4a78"/>
<rect x="72.80" y="260.10" width="5.20" height="5.20" fill="none" stroke="#48658f" stroke-width="1.0"/>
<circle cx="75.40" cy="262.70" r="0.95" fill="#2c4a78"/>
<rect x="66.40" y="261.10" width="5.20" height="5.20" fill="none" stroke="#48658f" stroke-width="1.0"/>
<circle cx="69.00" cy="263.70" r="0.95" fill="#2c4a78"/>
<rect x="68.40" y="263.20" width="5.20" height="5.20" fill="none" stroke="#48658f" stroke-width="1.0"/>
<circle cx="71.00" cy="265.80" r="0.95" fill="#2c4a78"/>
<rect x="61.90" y="262.90" width="5.20" height="5.20" fill="none" stroke="#48658f" stroke-width="1.0"/>
<circle cx="64.50" cy="265.50" r="0.95" fill="#2c4a78"/>
<rect x="70.90" y="264.40" width="5.20" height="5.20" fill="none" stroke="#48658f" stroke-width="1.0"/>
<circle cx="73.50" cy="267.00" r="0.95" fill="#2c4a78"/>
<rect x="66.30" y="267.30" width="5.20" height="5.20" fill="none" stroke="#48658f" stroke-width="1.0"/>
<circle cx="68.90" cy="269.90" r="0.95" fill="#2c4a78"/>
<line x1="89.20" y1="254.20" x2="109.70" y2="254.20" stroke="#1e2424" stroke-width="1.1"/>
<rect x="94.00" y="258.80" width="5.00" height="5.00" fill="#d9d3e5" stroke="#50698f" stroke-width="1.2"/>
<circle cx="96.50" cy="261.30" r="0.95" fill="#2c4a78"/>
<rect x="92.40" y="254.00" width="5.00" height="5.00" fill="#d9d3e5" stroke="#50698f" stroke-width="1.2"/>
<circle cx="94.90" cy="256.50" r="0.95" fill="#2c4a78"/>
<rect x="99.30" y="254.20" width="5.00" height="5.00" fill="#d9d3e5" stroke="#50698f" stroke-width="1.2"/>
<circle cx="101.80" cy="256.70" r="0.95" fill="#2c4a78"/>
<rect x="101.90" y="252.30" width="5.00" height="5.00" fill="#d9d3e5" stroke="#50698f" stroke-width="1.2"/>
<circle cx="104.40" cy="254.80" r="0.95" fill="#2c4a78"/>
<rect x="90.60" y="246.60" width="5.00" height="5.00" fill="#d9d3e5" stroke="#50698f" stroke-width="1.2"/>
<circle cx="93.10" cy="249.10" r="0.95" fill="#2c4a78"/>
<rect x="96.30" y="248.40" width="5.00" height="5.00" fill="#d9d3e5" stroke="#50698f" stroke-width="1.2"/>
<circle cx="98.80" cy="250.90" r="0.95" fill="#2c4a78"/>
<rect x="102.60" y="246.10" width="5.00" height="5.00" fill="#d9d3e5" stroke="#50698f" stroke-width="1.2"/>
<circle cx="105.10" cy="248.60" r="0.95" fill="#2c4a78"/>
<line x1="188.90" y1="246.00" x2="210.00" y2="246.00" stroke="#1e2424" stroke-width="1.1"/>
<rect x="196.90" y="240.90" width="5.20" height="5.20" fill="none" stroke="#48658f" stroke-width="1.0"/>
<circle cx="199.50" cy="243.50" r="0.95" fill="#2c4a78"/>
<rect x="190.65" y="239.65" width="5.20" height="5.20" fill="none" stroke="#48658f" stroke-width="1.0"/>
<circle cx="193.25" cy="242.25" r="0.95" fill="#2c4a78"/>
<rect x="202.65" y="238.15" width="5.20" height="5.20" fill="none" stroke="#48658f" stroke-width="1.0"/>
<circle cx="205.25" cy="240.75" r="0.95" fill="#2c4a78"/>
<rect x="192.65" y="249.15" width="5.20" height="5.20" fill="none" stroke="#48658f" stroke-width="1.0"/>
<circle cx="195.25" cy="251.75" r="0.95" fill="#2c4a78"/>
<rect x="200.65" y="247.90" width="5.20" height="5.20" fill="none" stroke="#48658f" stroke-width="1.0"/>
<circle cx="203.25" cy="250.50" r="0.95" fill="#2c4a78"/>
<line x1="219.20" y1="233.50" x2="240.00" y2="233.50" stroke="#1e2424" stroke-width="1.1"/>
<rect x="224.40" y="237.80" width="5.00" height="5.00" fill="#d9d3e5" stroke="#50698f" stroke-width="1.2"/>
<circle cx="226.90" cy="240.30" r="0.95" fill="#2c4a78"/>
<rect x="229.50" y="237.20" width="5.00" height="5.00" fill="#d9d3e5" stroke="#50698f" stroke-width="1.2"/>
<circle cx="232.00" cy="239.70" r="0.95" fill="#2c4a78"/>
<rect x="222.90" y="234.40" width="5.00" height="5.00" fill="#d9d3e5" stroke="#50698f" stroke-width="1.2"/>
<circle cx="225.40" cy="236.90" r="0.95" fill="#2c4a78"/>
<rect x="230.60" y="232.10" width="5.00" height="5.00" fill="#d9d3e5" stroke="#50698f" stroke-width="1.2"/>
<circle cx="233.10" cy="234.60" r="0.95" fill="#2c4a78"/>
<rect x="226.70" y="227.50" width="5.00" height="5.00" fill="#d9d3e5" stroke="#50698f" stroke-width="1.2"/>
<circle cx="229.20" cy="230.00" r="0.95" fill="#2c4a78"/>
<rect x="220.60" y="225.50" width="5.00" height="5.00" fill="#d9d3e5" stroke="#50698f" stroke-width="1.2"/>
<circle cx="223.10" cy="228.00" r="0.95" fill="#2c4a78"/>
<rect x="232.90" y="225.50" width="5.00" height="5.00" fill="#d9d3e5" stroke="#50698f" stroke-width="1.2"/>
<circle cx="235.40" cy="228.00" r="0.95" fill="#2c4a78"/>
<line x1="318.00" y1="266.25" x2="339.00" y2="266.25" stroke="#1e2424" stroke-width="1.1"/>
<rect x="319.65" y="259.90" width="5.20" height="5.20" fill="none" stroke="#48658f" stroke-width="1.0"/>
<circle cx="322.25" cy="262.50" r="0.95" fill="#2c4a78"/>
<rect x="322.40" y="262.90" width="5.20" height="5.20" fill="none" stroke="#48658f" stroke-width="1.0"/>
<circle cx="325.00" cy="265.50" r="0.95" fill="#2c4a78"/>
<rect x="325.40" y="262.40" width="5.20" height="5.20" fill="none" stroke="#48658f" stroke-width="1.0"/>
<circle cx="328.00" cy="265.00" r="0.95" fill="#2c4a78"/>
<rect x="328.40" y="262.65" width="5.20" height="5.20" fill="none" stroke="#48658f" stroke-width="1.0"/>
<circle cx="331.00" cy="265.25" r="0.95" fill="#2c4a78"/>
<rect x="332.40" y="262.40" width="5.20" height="5.20" fill="none" stroke="#48658f" stroke-width="1.0"/>
<circle cx="335.00" cy="265.00" r="0.95" fill="#2c4a78"/>
<rect x="324.90" y="266.90" width="5.20" height="5.20" fill="none" stroke="#48658f" stroke-width="1.0"/>
<circle cx="327.50" cy="269.50" r="0.95" fill="#2c4a78"/>
<rect x="329.90" y="266.65" width="5.20" height="5.20" fill="none" stroke="#48658f" stroke-width="1.0"/>
<circle cx="332.50" cy="269.25" r="0.95" fill="#2c4a78"/>
<line x1="349.50" y1="258.00" x2="370.30" y2="258.00" stroke="#1e2424" stroke-width="1.1"/>
<rect x="355.50" y="260.30" width="5.00" height="5.00" fill="#d9d3e5" stroke="#50698f" stroke-width="1.2"/>
<circle cx="358.00" cy="262.80" r="0.95" fill="#2c4a78"/>
<rect x="350.90" y="257.20" width="5.00" height="5.00" fill="#d9d3e5" stroke="#50698f" stroke-width="1.2"/>
<circle cx="353.40" cy="259.70" r="0.95" fill="#2c4a78"/>
<rect x="357.80" y="256.70" width="5.00" height="5.00" fill="#d9d3e5" stroke="#50698f" stroke-width="1.2"/>
<circle cx="360.30" cy="259.20" r="0.95" fill="#2c4a78"/>
<rect x="362.40" y="256.70" width="5.00" height="5.00" fill="#d9d3e5" stroke="#50698f" stroke-width="1.2"/>
<circle cx="364.90" cy="259.20" r="0.95" fill="#2c4a78"/>
<rect x="352.40" y="252.10" width="5.00" height="5.00" fill="#d9d3e5" stroke="#50698f" stroke-width="1.2"/>
<circle cx="354.90" cy="254.60" r="0.95" fill="#2c4a78"/>
<rect x="357.00" y="251.70" width="5.00" height="5.00" fill="#d9d3e5" stroke="#50698f" stroke-width="1.2"/>
<circle cx="359.50" cy="254.20" r="0.95" fill="#2c4a78"/>
<rect x="361.70" y="252.10" width="5.00" height="5.00" fill="#d9d3e5" stroke="#50698f" stroke-width="1.2"/>
<circle cx="364.20" cy="254.60" r="0.95" fill="#2c4a78"/>
<line x1="450.00" y1="304.10" x2="470.80" y2="304.10" stroke="#1e2424" stroke-width="1.1"/>
<rect x="450.60" y="298.30" width="5.20" height="5.20" fill="none" stroke="#48658f" stroke-width="1.0"/>
<circle cx="453.20" cy="300.90" r="0.95" fill="#2c4a78"/>
<rect x="454.90" y="302.40" width="5.20" height="5.20" fill="none" stroke="#48658f" stroke-width="1.0"/>
<circle cx="457.50" cy="305.00" r="0.95" fill="#2c4a78"/>
<rect x="458.40" y="302.40" width="5.20" height="5.20" fill="none" stroke="#48658f" stroke-width="1.0"/>
<circle cx="461.00" cy="305.00" r="0.95" fill="#2c4a78"/>
<rect x="461.90" y="302.40" width="5.20" height="5.20" fill="none" stroke="#48658f" stroke-width="1.0"/>
<circle cx="464.50" cy="305.00" r="0.95" fill="#2c4a78"/>
<rect x="464.60" y="301.90" width="5.20" height="5.20" fill="none" stroke="#48658f" stroke-width="1.0"/>
<circle cx="467.20" cy="304.50" r="0.95" fill="#2c4a78"/>
<line x1="480.60" y1="304.20" x2="502.00" y2="304.20" stroke="#1e2424" stroke-width="1.1"/>
<rect x="497.50" y="302.00" width="5.00" height="5.00" fill="#d9d3e5" stroke="#50698f" stroke-width="1.2"/>
<circle cx="500.00" cy="304.50" r="0.95" fill="#2c4a78"/>
<rect x="494.50" y="302.00" width="5.00" height="5.00" fill="#d9d3e5" stroke="#50698f" stroke-width="1.2"/>
<circle cx="497.00" cy="304.50" r="0.95" fill="#2c4a78"/>
<rect x="491.90" y="302.30" width="5.00" height="5.00" fill="#d9d3e5" stroke="#50698f" stroke-width="1.2"/>
<circle cx="494.40" cy="304.80" r="0.95" fill="#2c4a78"/>
<rect x="488.70" y="302.50" width="5.00" height="5.00" fill="#d9d3e5" stroke="#50698f" stroke-width="1.2"/>
<circle cx="491.20" cy="305.00" r="0.95" fill="#2c4a78"/>
<rect x="482.70" y="299.80" width="5.00" height="5.00" fill="#d9d3e5" stroke="#50698f" stroke-width="1.2"/>
<circle cx="485.20" cy="302.30" r="0.95" fill="#2c4a78"/>
<line x1="58.90" y1="440.40" x2="79.90" y2="440.40" stroke="#1e2424" stroke-width="1.1"/>
<circle cx="69.50" cy="433.10" r="2.60" fill="#ffffff" stroke="#a51e37" stroke-width="1.1"/>
<circle cx="69.50" cy="433.10" r="0.8" fill="#a51e37"/>
<circle cx="64.30" cy="440.30" r="2.60" fill="#ffffff" stroke="#a51e37" stroke-width="1.1"/>
<circle cx="64.30" cy="440.30" r="0.8" fill="#a51e37"/>
<circle cx="67.80" cy="440.00" r="2.60" fill="#ffffff" stroke="#a51e37" stroke-width="1.1"/>
<circle cx="67.80" cy="440.00" r="0.8" fill="#a51e37"/>
<circle cx="71.30" cy="440.00" r="2.60" fill="#ffffff" stroke="#a51e37" stroke-width="1.1"/>
<circle cx="71.30" cy="440.00" r="0.8" fill="#a51e37"/>
<circle cx="75.10" cy="440.30" r="2.60" fill="#ffffff" stroke="#a51e37" stroke-width="1.1"/>
<circle cx="75.10" cy="440.30" r="0.8" fill="#a51e37"/>
<circle cx="66.20" cy="442.50" r="2.60" fill="#ffffff" stroke="#a51e37" stroke-width="1.1"/>
<circle cx="66.20" cy="442.50" r="0.8" fill="#a51e37"/>
<circle cx="73.00" cy="442.50" r="2.60" fill="#ffffff" stroke="#a51e37" stroke-width="1.1"/>
<circle cx="73.00" cy="442.50" r="0.8" fill="#a51e37"/>
<circle cx="68.30" cy="443.60" r="2.60" fill="#ffffff" stroke="#a51e37" stroke-width="1.1"/>
<circle cx="68.30" cy="443.60" r="0.8" fill="#a51e37"/>
<circle cx="71.00" cy="443.60" r="2.60" fill="#ffffff" stroke="#a51e37" stroke-width="1.1"/>
<circle cx="71.00" cy="443.60" r="0.8" fill="#a51e37"/>
<line x1="88.90" y1="428.50" x2="109.90" y2="428.50" stroke="#1e2424" stroke-width="1.1"/>
<circle cx="95.60" cy="423.60" r="2.65" fill="#aa2140" stroke="#aa2140" stroke-width="1.0"/>
<circle cx="95.60" cy="423.60" r="1.7" fill="none" stroke="#f3ddd0" stroke-width="1.05"/>
<circle cx="93.30" cy="425.50" r="2.65" fill="#aa2140" stroke="#aa2140" stroke-width="1.0"/>
<circle cx="93.30" cy="425.50" r="1.7" fill="none" stroke="#f3ddd0" stroke-width="1.05"/>
<circle cx="103.70" cy="424.50" r="2.65" fill="#aa2140" stroke="#aa2140" stroke-width="1.0"/>
<circle cx="103.70" cy="424.50" r="1.7" fill="none" stroke="#f3ddd0" stroke-width="1.05"/>
<circle cx="106.20" cy="426.80" r="2.65" fill="#aa2140" stroke="#aa2140" stroke-width="1.0"/>
<circle cx="106.20" cy="426.80" r="1.7" fill="none" stroke="#f3ddd0" stroke-width="1.05"/>
<circle cx="95.60" cy="427.10" r="2.65" fill="#aa2140" stroke="#aa2140" stroke-width="1.0"/>
<circle cx="95.60" cy="427.10" r="1.7" fill="none" stroke="#f3ddd0" stroke-width="1.05"/>
<circle cx="104.60" cy="430.30" r="2.65" fill="#aa2140" stroke="#aa2140" stroke-width="1.0"/>
<circle cx="104.60" cy="430.30" r="1.7" fill="none" stroke="#f3ddd0" stroke-width="1.05"/>
<circle cx="97.20" cy="431.50" r="2.65" fill="#aa2140" stroke="#aa2140" stroke-width="1.0"/>
<circle cx="97.20" cy="431.50" r="1.7" fill="none" stroke="#f3ddd0" stroke-width="1.05"/>
<circle cx="101.60" cy="432.20" r="2.65" fill="#aa2140" stroke="#aa2140" stroke-width="1.0"/>
<circle cx="101.60" cy="432.20" r="1.7" fill="none" stroke="#f3ddd0" stroke-width="1.05"/>
<line x1="189.20" y1="434.10" x2="210.80" y2="434.10" stroke="#1e2424" stroke-width="1.1"/>
<circle cx="200.10" cy="425.10" r="2.60" fill="#ffffff" stroke="#a51e37" stroke-width="1.1"/>
<circle cx="200.10" cy="425.10" r="0.8" fill="#a51e37"/>
<circle cx="193.80" cy="434.00" r="2.60" fill="#ffffff" stroke="#a51e37" stroke-width="1.1"/>
<circle cx="193.80" cy="434.00" r="0.8" fill="#a51e37"/>
<circle cx="197.00" cy="433.30" r="2.60" fill="#ffffff" stroke="#a51e37" stroke-width="1.1"/>
<circle cx="197.00" cy="433.30" r="0.8" fill="#a51e37"/>
<circle cx="200.20" cy="433.30" r="2.60" fill="#ffffff" stroke="#a51e37" stroke-width="1.1"/>
<circle cx="200.20" cy="433.30" r="0.8" fill="#a51e37"/>
<circle cx="203.40" cy="433.30" r="2.60" fill="#ffffff" stroke="#a51e37" stroke-width="1.1"/>
<circle cx="203.40" cy="433.30" r="0.8" fill="#a51e37"/>
<circle cx="206.50" cy="434.00" r="2.60" fill="#ffffff" stroke="#a51e37" stroke-width="1.1"/>
<circle cx="206.50" cy="434.00" r="0.8" fill="#a51e37"/>
<circle cx="196.00" cy="436.00" r="2.60" fill="#ffffff" stroke="#a51e37" stroke-width="1.1"/>
<circle cx="196.00" cy="436.00" r="0.8" fill="#a51e37"/>
<circle cx="203.00" cy="436.00" r="2.60" fill="#ffffff" stroke="#a51e37" stroke-width="1.1"/>
<circle cx="203.00" cy="436.00" r="0.8" fill="#a51e37"/>
<circle cx="199.50" cy="436.80" r="2.60" fill="#ffffff" stroke="#a51e37" stroke-width="1.1"/>
<circle cx="199.50" cy="436.80" r="0.8" fill="#a51e37"/>
<circle cx="200.00" cy="437.50" r="2.60" fill="#ffffff" stroke="#a51e37" stroke-width="1.1"/>
<circle cx="200.00" cy="437.50" r="0.8" fill="#a51e37"/>
<line x1="220.20" y1="420.50" x2="240.90" y2="420.50" stroke="#1e2424" stroke-width="1.1"/>
<circle cx="226.10" cy="414.70" r="2.65" fill="#aa2140" stroke="#aa2140" stroke-width="1.0"/>
<circle cx="226.10" cy="414.70" r="1.7" fill="none" stroke="#f3ddd0" stroke-width="1.05"/>
<circle cx="235.20" cy="415.30" r="2.65" fill="#aa2140" stroke="#aa2140" stroke-width="1.0"/>
<circle cx="235.20" cy="415.30" r="1.7" fill="none" stroke="#f3ddd0" stroke-width="1.05"/>
<circle cx="228.20" cy="416.10" r="2.65" fill="#aa2140" stroke="#aa2140" stroke-width="1.0"/>
<circle cx="228.20" cy="416.10" r="1.7" fill="none" stroke="#f3ddd0" stroke-width="1.05"/>
<circle cx="233.30" cy="416.10" r="2.65" fill="#aa2140" stroke="#aa2140" stroke-width="1.0"/>
<circle cx="233.30" cy="416.10" r="1.7" fill="none" stroke="#f3ddd0" stroke-width="1.05"/>
<circle cx="224.70" cy="420.10" r="2.65" fill="#aa2140" stroke="#aa2140" stroke-width="1.0"/>
<circle cx="224.70" cy="420.10" r="1.7" fill="none" stroke="#f3ddd0" stroke-width="1.05"/>
<circle cx="237.40" cy="422.80" r="2.65" fill="#aa2140" stroke="#aa2140" stroke-width="1.0"/>
<circle cx="237.40" cy="422.80" r="1.7" fill="none" stroke="#f3ddd0" stroke-width="1.05"/>
<circle cx="227.20" cy="424.40" r="2.65" fill="#aa2140" stroke="#aa2140" stroke-width="1.0"/>
<circle cx="227.20" cy="424.40" r="1.7" fill="none" stroke="#f3ddd0" stroke-width="1.05"/>
<circle cx="234.20" cy="425.00" r="2.65" fill="#aa2140" stroke="#aa2140" stroke-width="1.0"/>
<circle cx="234.20" cy="425.00" r="1.7" fill="none" stroke="#f3ddd0" stroke-width="1.05"/>
<circle cx="230.10" cy="426.60" r="2.65" fill="#aa2140" stroke="#aa2140" stroke-width="1.0"/>
<circle cx="230.10" cy="426.60" r="1.7" fill="none" stroke="#f3ddd0" stroke-width="1.05"/>
<line x1="318.20" y1="444.30" x2="339.70" y2="444.30" stroke="#1e2424" stroke-width="1.1"/>
<circle cx="324.30" cy="439.80" r="2.60" fill="#ffffff" stroke="#a51e37" stroke-width="1.1"/>
<circle cx="324.30" cy="439.80" r="0.8" fill="#a51e37"/>
<circle cx="332.40" cy="439.80" r="2.60" fill="#ffffff" stroke="#a51e37" stroke-width="1.1"/>
<circle cx="332.40" cy="439.80" r="0.8" fill="#a51e37"/>
<circle cx="321.10" cy="444.40" r="2.60" fill="#ffffff" stroke="#a51e37" stroke-width="1.1"/>
<circle cx="321.10" cy="444.40" r="0.8" fill="#a51e37"/>
<circle cx="326.80" cy="443.30" r="2.60" fill="#ffffff" stroke="#a51e37" stroke-width="1.1"/>
<circle cx="326.80" cy="443.30" r="0.8" fill="#a51e37"/>
<circle cx="335.90" cy="443.30" r="2.60" fill="#ffffff" stroke="#a51e37" stroke-width="1.1"/>
<circle cx="335.90" cy="443.30" r="0.8" fill="#a51e37"/>
<circle cx="330.30" cy="445.50" r="2.60" fill="#ffffff" stroke="#a51e37" stroke-width="1.1"/>
<circle cx="330.30" cy="445.50" r="0.8" fill="#a51e37"/>
<circle cx="323.50" cy="445.70" r="2.60" fill="#ffffff" stroke="#a51e37" stroke-width="1.1"/>
<circle cx="323.50" cy="445.70" r="0.8" fill="#a51e37"/>
<circle cx="326.80" cy="447.60" r="2.60" fill="#ffffff" stroke="#a51e37" stroke-width="1.1"/>
<circle cx="326.80" cy="447.60" r="0.8" fill="#a51e37"/>
<line x1="349.20" y1="435.60" x2="370.00" y2="435.60" stroke="#1e2424" stroke-width="1.1"/>
<circle cx="353.50" cy="432.20" r="2.65" fill="#aa2140" stroke="#aa2140" stroke-width="1.0"/>
<circle cx="353.50" cy="432.20" r="1.7" fill="none" stroke="#f3ddd0" stroke-width="1.05"/>
<circle cx="357.60" cy="434.10" r="2.65" fill="#aa2140" stroke="#aa2140" stroke-width="1.0"/>
<circle cx="357.60" cy="434.10" r="1.7" fill="none" stroke="#f3ddd0" stroke-width="1.05"/>
<circle cx="364.80" cy="433.00" r="2.65" fill="#aa2140" stroke="#aa2140" stroke-width="1.0"/>
<circle cx="364.80" cy="433.00" r="1.7" fill="none" stroke="#f3ddd0" stroke-width="1.05"/>
<circle cx="367.30" cy="432.70" r="2.65" fill="#aa2140" stroke="#aa2140" stroke-width="1.0"/>
<circle cx="367.30" cy="432.70" r="1.7" fill="none" stroke="#f3ddd0" stroke-width="1.05"/>
<circle cx="357.60" cy="437.00" r="2.65" fill="#aa2140" stroke="#aa2140" stroke-width="1.0"/>
<circle cx="357.60" cy="437.00" r="1.7" fill="none" stroke="#f3ddd0" stroke-width="1.05"/>
<circle cx="363.00" cy="436.80" r="2.65" fill="#aa2140" stroke="#aa2140" stroke-width="1.0"/>
<circle cx="363.00" cy="436.80" r="1.7" fill="none" stroke="#f3ddd0" stroke-width="1.05"/>
<circle cx="359.70" cy="441.10" r="2.65" fill="#aa2140" stroke="#aa2140" stroke-width="1.0"/>
<circle cx="359.70" cy="441.10" r="1.7" fill="none" stroke="#f3ddd0" stroke-width="1.05"/>
<line x1="459.70" y1="427.40" x2="459.70" y2="453.50" stroke="#b0364c" stroke-width="1.0"/>
<line x1="454.60" y1="427.40" x2="465.40" y2="427.40" stroke="#b0364c" stroke-width="1.0"/>
<line x1="454.60" y1="453.50" x2="465.40" y2="453.50" stroke="#b0364c" stroke-width="1.0"/>
<line x1="490.80" y1="445.50" x2="490.80" y2="456.20" stroke="#b0364c" stroke-width="1.0"/>
<line x1="485.40" y1="445.50" x2="493.70" y2="445.50" stroke="#b0364c" stroke-width="1.0"/>
<line x1="450.00" y1="440.80" x2="470.50" y2="440.80" stroke="#1e2424" stroke-width="1.1"/>
<circle cx="459.70" cy="411.80" r="2.60" fill="#ffffff" stroke="#a51e37" stroke-width="1.1"/>
<circle cx="459.70" cy="411.80" r="0.8" fill="#a51e37"/>
<circle cx="459.70" cy="433.10" r="2.60" fill="#ffffff" stroke="#a51e37" stroke-width="1.1"/>
<circle cx="459.70" cy="433.10" r="0.8" fill="#a51e37"/>
<circle cx="466.20" cy="440.80" r="2.60" fill="#ffffff" stroke="#a51e37" stroke-width="1.1"/>
<circle cx="466.20" cy="440.80" r="0.8" fill="#a51e37"/>
<circle cx="450.00" cy="443.10" r="2.60" fill="#ffffff" stroke="#a51e37" stroke-width="1.1"/>
<circle cx="450.00" cy="443.10" r="0.8" fill="#a51e37"/>
<circle cx="453.50" cy="446.90" r="2.60" fill="#ffffff" stroke="#a51e37" stroke-width="1.1"/>
<circle cx="453.50" cy="446.90" r="0.8" fill="#a51e37"/>
<circle cx="459.70" cy="445.80" r="2.60" fill="#ffffff" stroke="#a51e37" stroke-width="1.1"/>
<circle cx="459.70" cy="445.80" r="0.8" fill="#a51e37"/>
<circle cx="466.20" cy="447.40" r="2.60" fill="#ffffff" stroke="#a51e37" stroke-width="1.1"/>
<circle cx="466.20" cy="447.40" r="0.8" fill="#a51e37"/>
<circle cx="459.70" cy="455.40" r="2.60" fill="#ffffff" stroke="#a51e37" stroke-width="1.1"/>
<circle cx="459.70" cy="455.40" r="0.8" fill="#a51e37"/>
<line x1="480.30" y1="451.50" x2="501.50" y2="451.50" stroke="#1e2424" stroke-width="1.1"/>
<circle cx="490.70" cy="441.10" r="2.65" fill="#aa2140" stroke="#aa2140" stroke-width="1.0"/>
<circle cx="490.70" cy="441.10" r="1.7" fill="none" stroke="#f3ddd0" stroke-width="1.05"/>
<circle cx="496.90" cy="445.70" r="2.65" fill="#aa2140" stroke="#aa2140" stroke-width="1.0"/>
<circle cx="496.90" cy="445.70" r="1.7" fill="none" stroke="#f3ddd0" stroke-width="1.05"/>
<circle cx="481.50" cy="449.20" r="2.65" fill="#aa2140" stroke="#aa2140" stroke-width="1.0"/>
<circle cx="481.50" cy="449.20" r="1.7" fill="none" stroke="#f3ddd0" stroke-width="1.05"/>
<circle cx="490.70" cy="450.30" r="2.65" fill="#aa2140" stroke="#aa2140" stroke-width="1.0"/>
<circle cx="490.70" cy="450.30" r="1.7" fill="none" stroke="#f3ddd0" stroke-width="1.05"/>
<circle cx="487.90" cy="454.50" r="2.65" fill="#aa2140" stroke="#aa2140" stroke-width="1.0"/>
<circle cx="487.90" cy="454.50" r="1.7" fill="none" stroke="#f3ddd0" stroke-width="1.05"/>
<circle cx="484.90" cy="452.80" r="2.65" fill="#aa2140" stroke="#aa2140" stroke-width="1.0"/>
<circle cx="484.90" cy="452.80" r="1.7" fill="none" stroke="#f3ddd0" stroke-width="1.05"/>
<circle cx="497.20" cy="453.50" r="2.65" fill="#aa2140" stroke="#aa2140" stroke-width="1.0"/>
<circle cx="497.20" cy="453.50" r="1.7" fill="none" stroke="#f3ddd0" stroke-width="1.05"/>
<circle cx="493.90" cy="455.20" r="2.65" fill="#aa2140" stroke="#aa2140" stroke-width="1.0"/>
<circle cx="493.90" cy="455.20" r="1.7" fill="none" stroke="#f3ddd0" stroke-width="1.05"/>
<circle cx="490.70" cy="460.00" r="2.65" fill="#aa2140" stroke="#aa2140" stroke-width="1.0"/>
<circle cx="490.70" cy="460.00" r="1.7" fill="none" stroke="#f3ddd0" stroke-width="1.05"/>
<line x1="58.80" y1="593.90" x2="79.80" y2="593.90" stroke="#1e2424" stroke-width="1.1"/>
<path d="M60.6,588.6 C62.5,587.4 65.5,588 67.5,589.3 L69.5,590.2 L72.5,589.2 C75,588.2 77.8,588.6 78.1,590.6 C78.4,593 76,596 73.5,598.5 C71.5,600.5 70.2,601.7 69.6,601.7 C68.6,601.7 66.5,599.8 64.5,597.8 C62,595.3 59.7,592.5 59.9,590.5 Z" fill="#4a6b9c" stroke="#4a6b9c" stroke-width="0.6" stroke-linejoin="round"/>
<circle cx="60.30" cy="585.50" r="2.70" fill="#ffffff" stroke="#3f6191" stroke-width="1.0"/>
<circle cx="60.30" cy="585.50" r="0.8" fill="#2c456e"/>
<circle cx="75.40" cy="583.70" r="2.70" fill="#ffffff" stroke="#3f6191" stroke-width="1.0"/>
<circle cx="75.40" cy="583.70" r="0.8" fill="#2c456e"/>
<circle cx="69.20" cy="590.10" r="2.70" fill="#ffffff" stroke="#3f6191" stroke-width="1.0"/>
<circle cx="69.20" cy="590.10" r="0.8" fill="#2c456e"/>
<line x1="88.80" y1="584.20" x2="109.80" y2="584.20" stroke="#1e2424" stroke-width="1.1"/>
<circle cx="99.25" cy="574.00" r="2.70" fill="#43649a" stroke="#43649a" stroke-width="1.0"/>
<circle cx="99.25" cy="574.00" r="1.7" fill="none" stroke="#cfd0e2" stroke-width="1.05"/>
<circle cx="91.25" cy="578.25" r="2.70" fill="#43649a" stroke="#43649a" stroke-width="1.0"/>
<circle cx="91.25" cy="578.25" r="1.7" fill="none" stroke="#cfd0e2" stroke-width="1.05"/>
<circle cx="95.50" cy="577.00" r="2.70" fill="#43649a" stroke="#43649a" stroke-width="1.0"/>
<circle cx="95.50" cy="577.00" r="1.7" fill="none" stroke="#cfd0e2" stroke-width="1.05"/>
<circle cx="103.75" cy="577.00" r="2.70" fill="#43649a" stroke="#43649a" stroke-width="1.0"/>
<circle cx="103.75" cy="577.00" r="1.7" fill="none" stroke="#cfd0e2" stroke-width="1.05"/>
<circle cx="106.00" cy="579.75" r="2.70" fill="#43649a" stroke="#43649a" stroke-width="1.0"/>
<circle cx="106.00" cy="579.75" r="1.7" fill="none" stroke="#cfd0e2" stroke-width="1.05"/>
<circle cx="94.50" cy="580.50" r="2.70" fill="#43649a" stroke="#43649a" stroke-width="1.0"/>
<circle cx="94.50" cy="580.50" r="1.7" fill="none" stroke="#cfd0e2" stroke-width="1.05"/>
<circle cx="99.25" cy="579.25" r="2.70" fill="#43649a" stroke="#43649a" stroke-width="1.0"/>
<circle cx="99.25" cy="579.25" r="1.7" fill="none" stroke="#cfd0e2" stroke-width="1.05"/>
<circle cx="103.25" cy="580.75" r="2.70" fill="#43649a" stroke="#43649a" stroke-width="1.0"/>
<circle cx="103.25" cy="580.75" r="1.7" fill="none" stroke="#cfd0e2" stroke-width="1.05"/>
<circle cx="96.00" cy="582.75" r="2.70" fill="#43649a" stroke="#43649a" stroke-width="1.0"/>
<circle cx="96.00" cy="582.75" r="1.7" fill="none" stroke="#cfd0e2" stroke-width="1.05"/>
<circle cx="99.50" cy="584.50" r="2.70" fill="#43649a" stroke="#43649a" stroke-width="1.0"/>
<circle cx="99.50" cy="584.50" r="1.7" fill="none" stroke="#cfd0e2" stroke-width="1.05"/>
<circle cx="106.00" cy="586.25" r="2.70" fill="#43649a" stroke="#43649a" stroke-width="1.0"/>
<circle cx="106.00" cy="586.25" r="1.7" fill="none" stroke="#cfd0e2" stroke-width="1.05"/>
<circle cx="92.25" cy="587.25" r="2.70" fill="#43649a" stroke="#43649a" stroke-width="1.0"/>
<circle cx="92.25" cy="587.25" r="1.7" fill="none" stroke="#cfd0e2" stroke-width="1.05"/>
<circle cx="96.75" cy="588.25" r="2.70" fill="#43649a" stroke="#43649a" stroke-width="1.0"/>
<circle cx="96.75" cy="588.25" r="1.7" fill="none" stroke="#cfd0e2" stroke-width="1.05"/>
<circle cx="102.00" cy="588.50" r="2.70" fill="#43649a" stroke="#43649a" stroke-width="1.0"/>
<circle cx="102.00" cy="588.50" r="1.7" fill="none" stroke="#cfd0e2" stroke-width="1.05"/>
<circle cx="99.00" cy="592.50" r="2.70" fill="#43649a" stroke="#43649a" stroke-width="1.0"/>
<circle cx="99.00" cy="592.50" r="1.7" fill="none" stroke="#cfd0e2" stroke-width="1.05"/>
<line x1="189.00" y1="572.80" x2="210.00" y2="572.80" stroke="#1e2424" stroke-width="1.1"/>
<path d="M189.3,569.5 C191.5,568.7 194.5,569.6 197,570.1 L200,570.4 C203,569.6 206.5,568.2 209.2,569.6 C210.3,571 208.7,573.2 206.5,575.2 L200.6,579.6 C200,580 199.4,580 198.8,579.6 L192.8,575.5 C190.5,573.6 188.6,571 189.3,569.5 Z" fill="#4a6b9c" stroke="#4a6b9c" stroke-width="0.6" stroke-linejoin="round"/>
<circle cx="190.60" cy="567.30" r="2.70" fill="#ffffff" stroke="#3f6191" stroke-width="1.0"/>
<circle cx="190.60" cy="567.30" r="0.8" fill="#2c456e"/>
<circle cx="199.20" cy="567.80" r="2.70" fill="#ffffff" stroke="#3f6191" stroke-width="1.0"/>
<circle cx="199.20" cy="567.80" r="0.8" fill="#2c456e"/>
<circle cx="205.40" cy="564.80" r="2.70" fill="#ffffff" stroke="#3f6191" stroke-width="1.0"/>
<circle cx="205.40" cy="564.80" r="0.8" fill="#2c456e"/>
<line x1="219.20" y1="561.30" x2="240.30" y2="561.30" stroke="#1e2424" stroke-width="1.1"/>
<circle cx="229.70" cy="551.90" r="2.70" fill="#43649a" stroke="#43649a" stroke-width="1.0"/>
<circle cx="229.70" cy="551.90" r="1.7" fill="none" stroke="#cfd0e2" stroke-width="1.05"/>
<circle cx="235.70" cy="554.60" r="2.70" fill="#43649a" stroke="#43649a" stroke-width="1.0"/>
<circle cx="235.70" cy="554.60" r="1.7" fill="none" stroke="#cfd0e2" stroke-width="1.05"/>
<circle cx="223.50" cy="555.70" r="2.70" fill="#43649a" stroke="#43649a" stroke-width="1.0"/>
<circle cx="223.50" cy="555.70" r="1.7" fill="none" stroke="#cfd0e2" stroke-width="1.05"/>
<circle cx="226.00" cy="558.00" r="2.70" fill="#43649a" stroke="#43649a" stroke-width="1.0"/>
<circle cx="226.00" cy="558.00" r="1.7" fill="none" stroke="#cfd0e2" stroke-width="1.05"/>
<circle cx="233.00" cy="557.00" r="2.70" fill="#43649a" stroke="#43649a" stroke-width="1.0"/>
<circle cx="233.00" cy="557.00" r="1.7" fill="none" stroke="#cfd0e2" stroke-width="1.05"/>
<circle cx="236.50" cy="563.00" r="2.70" fill="#43649a" stroke="#43649a" stroke-width="1.0"/>
<circle cx="236.50" cy="563.00" r="1.7" fill="none" stroke="#cfd0e2" stroke-width="1.05"/>
<circle cx="224.00" cy="566.50" r="2.70" fill="#43649a" stroke="#43649a" stroke-width="1.0"/>
<circle cx="224.00" cy="566.50" r="1.7" fill="none" stroke="#cfd0e2" stroke-width="1.05"/>
<circle cx="232.50" cy="567.50" r="2.70" fill="#43649a" stroke="#43649a" stroke-width="1.0"/>
<circle cx="232.50" cy="567.50" r="1.7" fill="none" stroke="#cfd0e2" stroke-width="1.05"/>
<circle cx="227.60" cy="559.70" r="2.70" fill="#43649a" stroke="#43649a" stroke-width="1.0"/>
<circle cx="227.60" cy="559.70" r="1.7" fill="none" stroke="#cfd0e2" stroke-width="1.05"/>
<circle cx="232.20" cy="559.20" r="2.70" fill="#43649a" stroke="#43649a" stroke-width="1.0"/>
<circle cx="232.20" cy="559.20" r="1.7" fill="none" stroke="#cfd0e2" stroke-width="1.05"/>
<circle cx="235.90" cy="560.80" r="2.70" fill="#43649a" stroke="#43649a" stroke-width="1.0"/>
<circle cx="235.90" cy="560.80" r="1.7" fill="none" stroke="#cfd0e2" stroke-width="1.05"/>
<circle cx="222.70" cy="560.50" r="2.70" fill="#43649a" stroke="#43649a" stroke-width="1.0"/>
<circle cx="222.70" cy="560.50" r="1.7" fill="none" stroke="#cfd0e2" stroke-width="1.05"/>
<circle cx="226.00" cy="564.00" r="2.70" fill="#43649a" stroke="#43649a" stroke-width="1.0"/>
<circle cx="226.00" cy="564.00" r="1.7" fill="none" stroke="#cfd0e2" stroke-width="1.05"/>
<circle cx="233.80" cy="564.00" r="2.70" fill="#43649a" stroke="#43649a" stroke-width="1.0"/>
<circle cx="233.80" cy="564.00" r="1.7" fill="none" stroke="#cfd0e2" stroke-width="1.05"/>
<circle cx="230.50" cy="566.20" r="2.70" fill="#43649a" stroke="#43649a" stroke-width="1.0"/>
<circle cx="230.50" cy="566.20" r="1.7" fill="none" stroke="#cfd0e2" stroke-width="1.05"/>
<circle cx="229.70" cy="569.20" r="2.70" fill="#43649a" stroke="#43649a" stroke-width="1.0"/>
<circle cx="229.70" cy="569.20" r="1.7" fill="none" stroke="#cfd0e2" stroke-width="1.05"/>
<line x1="318.20" y1="591.20" x2="339.00" y2="591.20" stroke="#1e2424" stroke-width="1.1"/>
<path d="M318.2,591.5 C318,587.5 319.5,585.3 322.5,585.1 C325.2,585 327,588 328.2,590.3 C329.4,588 331.2,585 334.2,585.1 C337.5,585.2 339.4,587.5 339.1,591.5 C338.9,595.3 334.5,596.8 328.6,596.8 C322.7,596.8 318.4,595.3 318.2,591.5 Z" fill="#4a6b9c" stroke="#4a6b9c" stroke-width="0.6" stroke-linejoin="round"/>
<circle cx="322.8" cy="587.6" r="1.6" fill="none" stroke="#b9c2da" stroke-width="0.8"/>
<circle cx="335.2" cy="587.6" r="1.6" fill="none" stroke="#b9c2da" stroke-width="0.8"/>
<line x1="349.50" y1="584.20" x2="370.30" y2="584.20" stroke="#1e2424" stroke-width="1.1"/>
<circle cx="353.80" cy="579.50" r="2.70" fill="#43649a" stroke="#43649a" stroke-width="1.0"/>
<circle cx="353.80" cy="579.50" r="1.7" fill="none" stroke="#cfd0e2" stroke-width="1.05"/>
<circle cx="362.00" cy="579.00" r="2.70" fill="#43649a" stroke="#43649a" stroke-width="1.0"/>
<circle cx="362.00" cy="579.00" r="1.7" fill="none" stroke="#cfd0e2" stroke-width="1.05"/>
<circle cx="366.00" cy="577.80" r="2.70" fill="#43649a" stroke="#43649a" stroke-width="1.0"/>
<circle cx="366.00" cy="577.80" r="1.7" fill="none" stroke="#cfd0e2" stroke-width="1.05"/>
<circle cx="358.50" cy="580.80" r="2.70" fill="#43649a" stroke="#43649a" stroke-width="1.0"/>
<circle cx="358.50" cy="580.80" r="1.7" fill="none" stroke="#cfd0e2" stroke-width="1.05"/>
<circle cx="352.60" cy="584.10" r="2.70" fill="#43649a" stroke="#43649a" stroke-width="1.0"/>
<circle cx="352.60" cy="584.10" r="1.7" fill="none" stroke="#cfd0e2" stroke-width="1.05"/>
<circle cx="356.50" cy="584.00" r="2.70" fill="#43649a" stroke="#43649a" stroke-width="1.0"/>
<circle cx="356.50" cy="584.00" r="1.7" fill="none" stroke="#cfd0e2" stroke-width="1.05"/>
<circle cx="367.80" cy="583.50" r="2.70" fill="#43649a" stroke="#43649a" stroke-width="1.0"/>
<circle cx="367.80" cy="583.50" r="1.7" fill="none" stroke="#cfd0e2" stroke-width="1.05"/>
<circle cx="364.70" cy="584.10" r="2.70" fill="#43649a" stroke="#43649a" stroke-width="1.0"/>
<circle cx="364.70" cy="584.10" r="1.7" fill="none" stroke="#cfd0e2" stroke-width="1.05"/>
<circle cx="360.50" cy="583.80" r="2.70" fill="#43649a" stroke="#43649a" stroke-width="1.0"/>
<circle cx="360.50" cy="583.80" r="1.7" fill="none" stroke="#cfd0e2" stroke-width="1.05"/>
<circle cx="355.50" cy="587.00" r="2.70" fill="#43649a" stroke="#43649a" stroke-width="1.0"/>
<circle cx="355.50" cy="587.00" r="1.7" fill="none" stroke="#cfd0e2" stroke-width="1.05"/>
<circle cx="361.50" cy="587.00" r="2.70" fill="#43649a" stroke="#43649a" stroke-width="1.0"/>
<circle cx="361.50" cy="587.00" r="1.7" fill="none" stroke="#cfd0e2" stroke-width="1.05"/>
<circle cx="358.80" cy="590.40" r="2.70" fill="#43649a" stroke="#43649a" stroke-width="1.0"/>
<circle cx="358.80" cy="590.40" r="1.7" fill="none" stroke="#cfd0e2" stroke-width="1.05"/>
<line x1="449.50" y1="625.50" x2="469.50" y2="625.50" stroke="#1e2424" stroke-width="1.1"/>
<path d="M449.3,629 C449.2,626.5 451,625.2 453.5,624.6 C456,624 457.5,625.5 459.5,626.2 C461.5,625 463.5,623.3 466,623.4 C468.7,623.6 470.2,626 470,628.5 C469.8,631 467.5,632.5 464,633 L459.5,634.3 L455,633 C451.5,632.5 449.4,631.3 449.3,629 Z" fill="#4d6e9f" stroke="#4d6e9f" stroke-width="0.6" stroke-linejoin="round"/>
<circle cx="451.20" cy="620.30" r="2.70" fill="#ffffff" stroke="#3f6191" stroke-width="1.0"/>
<circle cx="451.20" cy="620.30" r="0.8" fill="#2c456e"/>
<circle cx="468.20" cy="621.80" r="2.70" fill="#ffffff" stroke="#3f6191" stroke-width="1.0"/>
<circle cx="468.20" cy="621.80" r="0.8" fill="#2c456e"/>
<line x1="480.80" y1="625.30" x2="501.00" y2="625.30" stroke="#1e2424" stroke-width="1.1"/>
<circle cx="497.60" cy="623.20" r="2.70" fill="#43649a" stroke="#43649a" stroke-width="1.0"/>
<circle cx="497.60" cy="623.20" r="1.7" fill="none" stroke="#cfd0e2" stroke-width="1.05"/>
<circle cx="483.80" cy="625.00" r="2.70" fill="#43649a" stroke="#43649a" stroke-width="1.0"/>
<circle cx="483.80" cy="625.00" r="1.7" fill="none" stroke="#cfd0e2" stroke-width="1.05"/>
<circle cx="490.00" cy="626.00" r="2.70" fill="#43649a" stroke="#43649a" stroke-width="1.0"/>
<circle cx="490.00" cy="626.00" r="1.7" fill="none" stroke="#cfd0e2" stroke-width="1.05"/>
<circle cx="494.70" cy="625.50" r="2.70" fill="#43649a" stroke="#43649a" stroke-width="1.0"/>
<circle cx="494.70" cy="625.50" r="1.7" fill="none" stroke="#cfd0e2" stroke-width="1.05"/>
<circle cx="497.10" cy="625.80" r="2.70" fill="#43649a" stroke="#43649a" stroke-width="1.0"/>
<circle cx="497.10" cy="625.80" r="1.7" fill="none" stroke="#cfd0e2" stroke-width="1.05"/>
<circle cx="485.50" cy="629.00" r="2.70" fill="#43649a" stroke="#43649a" stroke-width="1.0"/>
<circle cx="485.50" cy="629.00" r="1.7" fill="none" stroke="#cfd0e2" stroke-width="1.05"/>
<circle cx="495.50" cy="628.50" r="2.70" fill="#43649a" stroke="#43649a" stroke-width="1.0"/>
<circle cx="495.50" cy="628.50" r="1.7" fill="none" stroke="#cfd0e2" stroke-width="1.05"/>
<circle cx="486.70" cy="627.80" r="2.70" fill="#43649a" stroke="#43649a" stroke-width="1.0"/>
<circle cx="486.70" cy="627.80" r="1.7" fill="none" stroke="#cfd0e2" stroke-width="1.05"/>
<circle cx="492.40" cy="629.00" r="2.70" fill="#43649a" stroke="#43649a" stroke-width="1.0"/>
<circle cx="492.40" cy="629.00" r="1.7" fill="none" stroke="#cfd0e2" stroke-width="1.05"/>
<circle cx="491.00" cy="631.00" r="2.70" fill="#43649a" stroke="#43649a" stroke-width="1.0"/>
<circle cx="491.00" cy="631.00" r="1.7" fill="none" stroke="#cfd0e2" stroke-width="1.05"/>
<circle cx="489.60" cy="629.80" r="2.70" fill="#43649a" stroke="#43649a" stroke-width="1.0"/>
<circle cx="489.60" cy="629.80" r="1.7" fill="none" stroke="#cfd0e2" stroke-width="1.05"/>
<rect x="180.80" y="10.30" width="5.20" height="5.20" fill="#ffffff" stroke="#c05a70" stroke-width="1.4"/>
<circle cx="183.40" cy="12.90" r="0.85" fill="#a01c35"/>
<rect x="180.90" y="26.20" width="5.00" height="5.00" fill="#f4e1d2" stroke="#b7435a" stroke-width="1.6"/>
<circle cx="183.40" cy="28.70" r="0.85" fill="#a31b36"/>
<text transform="translate(189.48,15.60) scale(1.0440,1)" font-size="8.40" fill="#231f20" stroke="#231f20" >Hbb</text>
<text transform="translate(207.10,12.70) scale(1.0304,1)" font-size="6.30" fill="#4d4a4b" stroke="#4d4a4b" style="stroke-width:0">th3/+</text>
<text transform="translate(221.57,15.60) scale(0.8675,1)" font-size="8.40" fill="#231f20" stroke="#231f20" >Vav</text>
<text transform="translate(233.99,12.70) scale(0.9632,1)" font-size="6.30" fill="#4d4a4b" stroke="#4d4a4b" style="stroke-width:0">Cre</text>
<text transform="translate(244.28,15.60) scale(0.9841,1)" font-size="8.40" fill="#231f20" stroke="#231f20" >Gdf11</text>
<text transform="translate(269.42,12.70) scale(0.9673,1)" font-size="6.30" fill="#4d4a4b" stroke="#4d4a4b" style="stroke-width:0">Δ2-3/Δ2-3</text>
<text transform="translate(296.52,15.60) scale(0.9227,1)" font-size="8.40" fill="#231f20" stroke="#231f20" >+PBS</text>
<text transform="translate(189.48,31.20) scale(1.0440,1)" font-size="8.40" fill="#231f20" stroke="#231f20" >Hbb</text>
<text transform="translate(207.10,28.30) scale(1.0304,1)" font-size="6.30" fill="#4d4a4b" stroke="#4d4a4b" style="stroke-width:0">th3/+</text>
<text transform="translate(221.57,31.20) scale(0.8675,1)" font-size="8.40" fill="#231f20" stroke="#231f20" >Vav</text>
<text transform="translate(233.99,28.30) scale(0.9632,1)" font-size="6.30" fill="#4d4a4b" stroke="#4d4a4b" style="stroke-width:0">Cre</text>
<text transform="translate(244.28,31.20) scale(0.9841,1)" font-size="8.40" fill="#231f20" stroke="#231f20" >Gdf11</text>
<text transform="translate(269.42,28.30) scale(0.9673,1)" font-size="6.30" fill="#4d4a4b" stroke="#4d4a4b" style="stroke-width:0">Δ2-3/Δ2-3</text>
<text transform="translate(296.52,31.20) scale(0.9317,1)" font-size="8.40" fill="#231f20" stroke="#231f20" >+RAP-536</text>
<rect x="183.70" y="173.80" width="4.40" height="4.40" fill="#ffffff" stroke="#5a7399" stroke-width="1.2"/>
<circle cx="185.90" cy="176.00" r="0.8" fill="#2c4a78"/>
<rect x="183.70" y="188.80" width="4.40" height="4.40" fill="#d9d3e5" stroke="#5a7399" stroke-width="1.2"/>
<circle cx="185.90" cy="191.00" r="0.8" fill="#2c4a78"/>
<text transform="translate(192.00,178.70) scale(1.0092,1)" font-size="8.40" fill="#231f20" stroke="#231f20" >Hbb</text>
<text transform="translate(209.82,175.80) scale(0.8951,1)" font-size="6.30" fill="#4d4a4b" stroke="#4d4a4b" style="stroke-width:0">+/+</text>
<text transform="translate(218.26,178.70) scale(0.9647,1)" font-size="8.40" fill="#231f20" stroke="#231f20" >Vav</text>
<text transform="translate(232.81,175.80) scale(0.9109,1)" font-size="6.30" fill="#4d4a4b" stroke="#4d4a4b" style="stroke-width:0">Cre</text>
<text transform="translate(243.30,178.70) scale(0.9388,1)" font-size="8.40" fill="#231f20" stroke="#231f20" >Gdf11</text>
<text transform="translate(266.61,175.80) scale(0.9959,1)" font-size="6.30" fill="#4d4a4b" stroke="#4d4a4b" style="stroke-width:0" font-style="italic">Δ2-3/Δ2-3</text>
<text transform="translate(294.64,178.70) scale(0.8748,1)" font-size="8.40" fill="#231f20" stroke="#231f20" >+PBS</text>
<text transform="translate(192.00,194.00) scale(1.0092,1)" font-size="8.40" fill="#231f20" stroke="#231f20" >Hbb</text>
<text transform="translate(209.82,191.10) scale(0.8951,1)" font-size="6.30" fill="#4d4a4b" stroke="#4d4a4b" style="stroke-width:0">+/+</text>
<text transform="translate(218.26,194.00) scale(0.9647,1)" font-size="8.40" fill="#231f20" stroke="#231f20" >Vav</text>
<text transform="translate(232.81,191.10) scale(0.9109,1)" font-size="6.30" fill="#4d4a4b" stroke="#4d4a4b" style="stroke-width:0">Cre</text>
<text transform="translate(243.30,194.00) scale(0.9388,1)" font-size="8.40" fill="#231f20" stroke="#231f20" >Gdf11</text>
<text transform="translate(266.61,191.10) scale(0.9959,1)" font-size="6.30" fill="#4d4a4b" stroke="#4d4a4b" style="stroke-width:0" font-style="italic">Δ2-3/Δ2-3</text>
<text transform="translate(294.63,194.00) scale(0.9055,1)" font-size="8.40" fill="#231f20" stroke="#231f20" >+RAP-536</text>
<circle cx="181.00" cy="338.50" r="2.65" fill="#ffffff" stroke="#a51e37" stroke-width="1.1"/>
<circle cx="181.00" cy="338.50" r="0.8" fill="#a51e37"/>
<circle cx="181.00" cy="353.80" r="2.70" fill="#aa2140" stroke="#aa2140" stroke-width="1.0"/>
<circle cx="181.00" cy="353.80" r="1.7" fill="none" stroke="#f3ddd0" stroke-width="1.05"/>
<text transform="translate(187.16,340.90) scale(1.0718,1)" font-size="8.40" fill="#231f20" stroke="#231f20" >Hbb</text>
<text transform="translate(204.20,338.00) scale(1.0449,1)" font-size="6.30" fill="#4d4a4b" stroke="#4d4a4b" style="stroke-width:0">th3/+</text>
<text transform="translate(219.07,340.90) scale(0.9144,1)" font-size="8.40" fill="#231f20" stroke="#231f20" >Rosa</text>
<text transform="translate(238.02,338.00) scale(0.8690,1)" font-size="6.30" fill="#4d4a4b" stroke="#4d4a4b" style="stroke-width:0">Cre</text>
<text transform="translate(247.18,340.90) scale(1.0023,1)" font-size="8.40" fill="#231f20" stroke="#231f20" >Gdf11</text>
<text transform="translate(272.12,338.00) scale(0.9852,1)" font-size="6.30" fill="#4d4a4b" stroke="#4d4a4b" style="stroke-width:0" font-style="italic">Δ2-3/Δ2-3</text>
<text transform="translate(299.63,340.90) scale(0.8987,1)" font-size="8.40" fill="#231f20" stroke="#231f20" >+PBS</text>
<text transform="translate(187.16,356.20) scale(1.0718,1)" font-size="8.40" fill="#231f20" stroke="#231f20" >Hbb</text>
<text transform="translate(204.20,353.30) scale(1.0449,1)" font-size="6.30" fill="#4d4a4b" stroke="#4d4a4b" style="stroke-width:0">th3/+</text>
<text transform="translate(219.07,356.20) scale(0.9144,1)" font-size="8.40" fill="#231f20" stroke="#231f20" >Rosa</text>
<text transform="translate(238.02,353.30) scale(0.8690,1)" font-size="6.30" fill="#4d4a4b" stroke="#4d4a4b" style="stroke-width:0">Cre</text>
<text transform="translate(247.18,356.20) scale(1.0023,1)" font-size="8.40" fill="#231f20" stroke="#231f20" >Gdf11</text>
<text transform="translate(272.12,353.30) scale(0.9852,1)" font-size="6.30" fill="#4d4a4b" stroke="#4d4a4b" style="stroke-width:0" font-style="italic">Δ2-3/Δ2-3</text>
<text transform="translate(299.63,356.20) scale(0.8977,1)" font-size="8.40" fill="#231f20" stroke="#231f20" >+RAP-536</text>
<circle cx="183.40" cy="501.20" r="2.70" fill="#ffffff" stroke="#3f6191" stroke-width="1.0"/>
<circle cx="183.40" cy="501.20" r="0.8" fill="#2c456e"/>
<circle cx="183.40" cy="516.30" r="2.70" fill="#43649a" stroke="#43649a" stroke-width="1.0"/>
<circle cx="183.40" cy="516.30" r="1.7" fill="none" stroke="#cfd0e2" stroke-width="1.05"/>
<text transform="translate(189.46,503.90) scale(1.0718,1)" font-size="8.40" fill="#231f20" stroke="#231f20" >Hbb</text>
<text transform="translate(207.30,501.00) scale(0.9658,1)" font-size="6.30" fill="#4d4a4b" stroke="#4d4a4b" style="stroke-width:0">+/+</text>
<text transform="translate(216.60,503.90) scale(0.8721,1)" font-size="8.40" fill="#231f20" stroke="#231f20" >Rosa</text>
<text transform="translate(235.73,501.00) scale(0.8480,1)" font-size="6.30" fill="#4d4a4b" stroke="#4d4a4b" style="stroke-width:0">Cre</text>
<text transform="translate(244.79,503.90) scale(0.9796,1)" font-size="8.40" fill="#231f20" stroke="#231f20" >Gdf11</text>
<text transform="translate(269.82,501.00) scale(0.9637,1)" font-size="6.30" fill="#4d4a4b" stroke="#4d4a4b" style="stroke-width:0" font-style="italic">Δ2-3/Δ2-3</text>
<text transform="translate(296.93,503.90) scale(0.9035,1)" font-size="8.40" fill="#231f20" stroke="#231f20" >+PBS</text>
<text transform="translate(189.46,518.90) scale(1.0718,1)" font-size="8.40" fill="#231f20" stroke="#231f20" >Hbb</text>
<text transform="translate(207.30,516.00) scale(0.9658,1)" font-size="6.30" fill="#4d4a4b" stroke="#4d4a4b" style="stroke-width:0">+/+</text>
<text transform="translate(216.60,518.90) scale(0.8721,1)" font-size="8.40" fill="#231f20" stroke="#231f20" >Rosa</text>
<text transform="translate(235.73,516.00) scale(0.8480,1)" font-size="6.30" fill="#4d4a4b" stroke="#4d4a4b" style="stroke-width:0">Cre</text>
<text transform="translate(244.79,518.90) scale(0.9796,1)" font-size="8.40" fill="#231f20" stroke="#231f20" >Gdf11</text>
<text transform="translate(269.82,516.00) scale(0.9637,1)" font-size="6.30" fill="#4d4a4b" stroke="#4d4a4b" style="stroke-width:0" font-style="italic">Δ2-3/Δ2-3</text>
<text transform="translate(296.92,518.90) scale(0.9212,1)" font-size="8.40" fill="#231f20" stroke="#231f20" >+RAP-536</text>
<rect x="0" y="0" width="520" height="1" fill="#1f1f1a"/>
<rect x="0" y="643" width="520" height="1" fill="#1f1f1a"/>
<rect x="0" y="0" width="1" height="644" fill="#6e6e68"/>
<rect x="1" y="0" width="1" height="644" fill="#8a8a84"/>
<rect x="519" y="0" width="1" height="644" fill="#1f1f1a"/>
</svg>
</body></html>
